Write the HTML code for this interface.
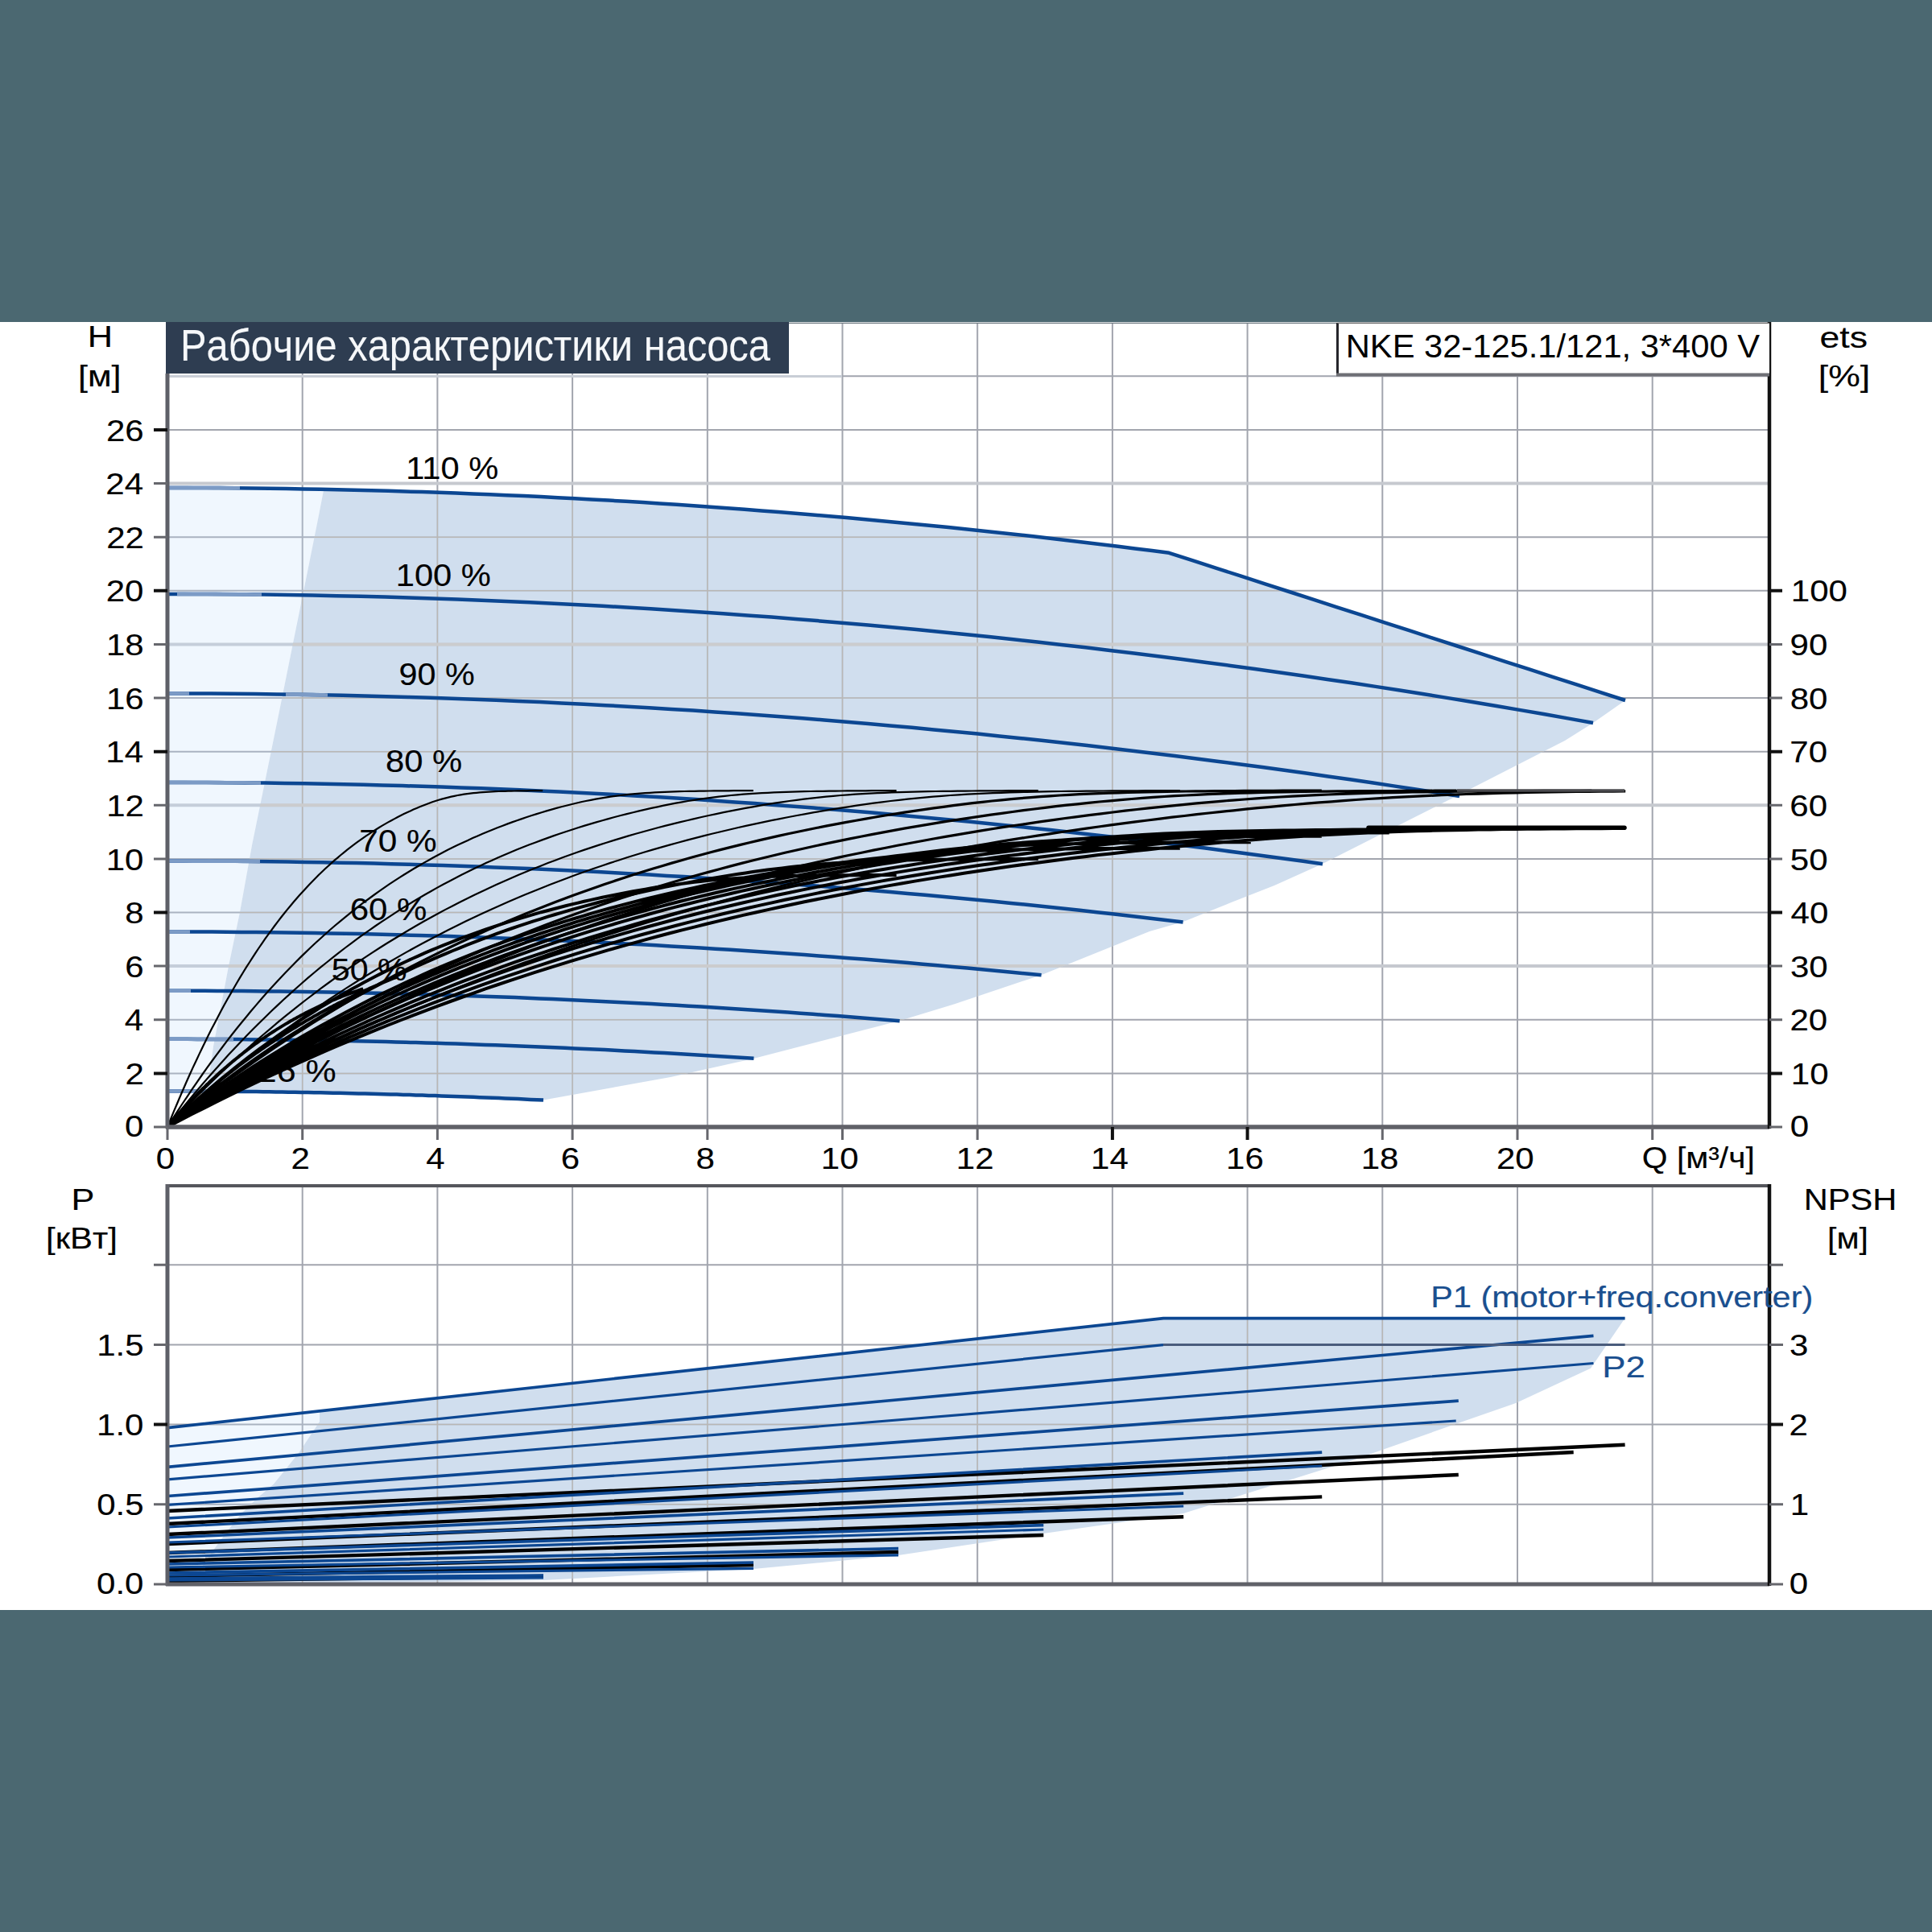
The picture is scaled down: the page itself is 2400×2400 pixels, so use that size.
<!DOCTYPE html>
<html><head><meta charset="utf-8"><title>Рабочие характеристики насоса</title>
<style>
html,body{margin:0;padding:0;width:2400px;height:2400px;overflow:hidden;background:#4b6871;font-family:"Liberation Sans",sans-serif;}
</style></head><body>
<svg width="2400" height="2400" viewBox="0 0 2400 2400" style="position:absolute;left:0;top:0"><rect x="0" y="0" width="2400" height="2400" fill="#4b6871"/>
<rect x="0" y="400" width="2400" height="1600" fill="#ffffff"/>
<path d="M375.7,402 L375.7,1400 M543.4,402 L543.4,1400 M711.1,402 L711.1,1400 M878.8,402 L878.8,1400 M1046.5,402 L1046.5,1400 M1214.2,402 L1214.2,1400 M1381.9,402 L1381.9,1400 M1549.6,402 L1549.6,1400 M1717.3,402 L1717.3,1400 M1885.0,402 L1885.0,1400 M2052.7,402 L2052.7,1400 M208,1333.4 L2198,1333.4 M208,1266.8 L2198,1266.8 M208,1133.5 L2198,1133.5 M208,1066.9 L2198,1066.9 M208,933.7 L2198,933.7 M208,867.0 L2198,867.0 M208,733.8 L2198,733.8 M208,667.2 L2198,667.2 M208,533.9 L2198,533.9 M208,467.3 L2198,467.3" stroke="#a2a5ae" stroke-width="2" fill="none"/>
<path d="M208,1200.1 L2198,1200.1 M208,1000.3 L2198,1000.3 M208,800.4 L2198,800.4 M208,600.6 L2198,600.6" stroke="#c6c9cf" stroke-width="4" fill="none"/>
<polygon points="208.0,605.9 218.2,605.9 228.4,605.9 238.6,606.0 248.8,606.0 259.1,606.0 269.3,606.1 279.5,606.2 289.7,606.3 299.9,606.3 310.1,606.4 320.3,606.6 330.5,606.7 340.7,606.8 350.9,607.0 361.2,607.1 371.4,607.3 381.6,607.5 391.8,607.7 402.0,607.9 402.0,609.0 396.0,640.0 384.0,700.0 343.6,900.0 313.0,1050.0 298.0,1133.0 284.0,1200.0 265.0,1300.0 257.0,1357.0 257.0,1355.6 251.6,1355.6 246.1,1355.6 240.7,1355.6 235.2,1355.5 229.8,1355.5 224.3,1355.5 218.9,1355.5 213.4,1355.5 208.0,1355.5" fill="#c3dffb" fill-opacity="0.25"/>
<polygon points="402.0,607.9 423.4,608.3 444.9,608.8 466.3,609.4 487.7,610.0 509.2,610.6 530.6,611.3 552.0,612.1 573.5,612.9 594.9,613.7 616.3,614.6 637.8,615.6 659.2,616.5 680.6,617.6 702.1,618.7 723.5,619.8 744.9,621.0 766.4,622.2 787.8,623.5 809.2,624.8 830.7,626.2 852.1,627.6 873.5,629.1 895.0,630.6 916.4,632.1 937.8,633.7 959.2,635.4 980.7,637.1 1002.1,638.9 1023.5,640.7 1045.0,642.5 1066.4,644.4 1087.8,646.4 1109.3,648.4 1130.7,650.4 1152.1,652.5 1173.6,654.6 1195.0,656.8 1216.4,659.0 1237.9,661.3 1259.3,663.7 1280.7,666.0 1302.2,668.5 1323.6,670.9 1345.0,673.5 1366.5,676.0 1387.9,678.7 1409.3,681.3 1430.8,684.0 1452.2,686.8 2019.0,870.0 1979.0,898.0 1944.0,920.0 1811.0,988.0 1643.0,1073.0 1583.0,1100.0 1532.0,1120.0 1470.0,1145.0 1428.0,1157.0 1294.0,1211.0 1185.0,1247.5 1117.6,1268.0 936.0,1315.0 833.0,1338.0 675.0,1366.6 675.0,1366.6 660.6,1365.9 646.2,1365.3 631.8,1364.6 617.3,1364.0 602.9,1363.4 588.5,1362.9 574.1,1362.3 559.7,1361.8 545.3,1361.3 530.9,1360.8 516.4,1360.3 502.0,1359.9 487.6,1359.5 473.2,1359.1 458.8,1358.7 444.4,1358.3 430.0,1358.0 415.6,1357.7 401.1,1357.4 386.7,1357.1 372.3,1356.9 357.9,1356.6 343.5,1356.4 329.1,1356.2 314.7,1356.1 300.2,1355.9 285.8,1355.8 271.4,1355.7 257.0,1355.6 257.0,1357.0 265.0,1300.0 284.0,1200.0 298.0,1133.0 313.0,1050.0 343.6,900.0 384.0,700.0 396.0,640.0 402.0,609.0" fill="#c4d6ea" fill-opacity="0.8"/>
<clipPath id="cpU"><polygon points="402.0,607.9 423.4,608.3 444.9,608.8 466.3,609.4 487.7,610.0 509.2,610.6 530.6,611.3 552.0,612.1 573.5,612.9 594.9,613.7 616.3,614.6 637.8,615.6 659.2,616.5 680.6,617.6 702.1,618.7 723.5,619.8 744.9,621.0 766.4,622.2 787.8,623.5 809.2,624.8 830.7,626.2 852.1,627.6 873.5,629.1 895.0,630.6 916.4,632.1 937.8,633.7 959.2,635.4 980.7,637.1 1002.1,638.9 1023.5,640.7 1045.0,642.5 1066.4,644.4 1087.8,646.4 1109.3,648.4 1130.7,650.4 1152.1,652.5 1173.6,654.6 1195.0,656.8 1216.4,659.0 1237.9,661.3 1259.3,663.7 1280.7,666.0 1302.2,668.5 1323.6,670.9 1345.0,673.5 1366.5,676.0 1387.9,678.7 1409.3,681.3 1430.8,684.0 1452.2,686.8 2019.0,870.0 1979.0,898.0 1944.0,920.0 1811.0,988.0 1643.0,1073.0 1583.0,1100.0 1532.0,1120.0 1470.0,1145.0 1428.0,1157.0 1294.0,1211.0 1185.0,1247.5 1117.6,1268.0 936.0,1315.0 833.0,1338.0 675.0,1366.6 675.0,1366.6 660.6,1365.9 646.2,1365.3 631.8,1364.6 617.3,1364.0 602.9,1363.4 588.5,1362.9 574.1,1362.3 559.7,1361.8 545.3,1361.3 530.9,1360.8 516.4,1360.3 502.0,1359.9 487.6,1359.5 473.2,1359.1 458.8,1358.7 444.4,1358.3 430.0,1358.0 415.6,1357.7 401.1,1357.4 386.7,1357.1 372.3,1356.9 357.9,1356.6 343.5,1356.4 329.1,1356.2 314.7,1356.1 300.2,1355.9 285.8,1355.8 271.4,1355.7 257.0,1355.6 257.0,1357.0 265.0,1300.0 284.0,1200.0 298.0,1133.0 313.0,1050.0 343.6,900.0 384.0,700.0 396.0,640.0 402.0,609.0"/></clipPath>
<g clip-path="url(#cpU)"><path d="M375.7,402 L375.7,1400 M543.4,402 L543.4,1400 M711.1,402 L711.1,1400 M878.8,402 L878.8,1400 M1046.5,402 L1046.5,1400 M1214.2,402 L1214.2,1400 M1381.9,402 L1381.9,1400 M1549.6,402 L1549.6,1400 M1717.3,402 L1717.3,1400 M1885.0,402 L1885.0,1400 M2052.7,402 L2052.7,1400 M208,1333.4 L2198,1333.4 M208,1266.8 L2198,1266.8 M208,1133.5 L2198,1133.5 M208,1066.9 L2198,1066.9 M208,933.7 L2198,933.7 M208,867.0 L2198,867.0 M208,733.8 L2198,733.8 M208,667.2 L2198,667.2 M208,533.9 L2198,533.9 M208,467.3 L2198,467.3" stroke="#b9b7b5" stroke-width="1.5" fill="none"/><path d="M208,1200.1 L2198,1200.1 M208,1000.3 L2198,1000.3 M208,800.4 L2198,800.4 M208,600.6 L2198,600.6" stroke="#cbccce" stroke-width="4" fill="none"/></g>
<path d="M208,467.5 L1046,467.5" stroke="#c9ced6" stroke-width="3"/>
<path d="M980,401.4 L2198,401.4" stroke="#6d7880" stroke-width="1.4"/>
<path d="M208.0,605.9 L229.1,605.9 L250.2,606.0 L271.3,606.1 L292.4,606.3 L313.4,606.5 L334.5,606.7 L355.6,607.0 L376.7,607.4 L397.8,607.8 L418.9,608.2 L440.0,608.7 L461.1,609.2 L482.1,609.8 L503.2,610.5 L524.3,611.1 L545.4,611.8 L566.5,612.6 L587.6,613.4 L608.7,614.3 L629.8,615.2 L650.9,616.1 L671.9,617.1 L693.0,618.2 L714.1,619.3 L735.2,620.4 L756.3,621.6 L777.4,622.8 L798.5,624.1 L819.6,625.4 L840.6,626.8 L861.7,628.2 L882.8,629.7 L903.9,631.2 L925.0,632.8 L946.1,634.4 L967.2,636.0 L988.3,637.7 L1009.3,639.5 L1030.4,641.2 L1051.5,643.1 L1072.6,645.0 L1093.7,646.9 L1114.8,648.9 L1135.9,650.9 L1157.0,653.0 L1178.1,655.1 L1199.1,657.2 L1220.2,659.4 L1241.3,661.7 L1262.4,664.0 L1283.5,666.3 L1304.6,668.7 L1325.7,671.2 L1346.8,673.7 L1367.8,676.2 L1388.9,678.8 L1410.0,681.4 L1431.1,684.1 L1452.2,686.8 L1482.0,696.4 L1511.9,706.1 L1541.7,715.7 L1571.5,725.4 L1601.4,735.0 L1631.2,744.7 L1661.0,754.3 L1690.9,763.9 L1720.7,773.6 L1750.5,783.2 L1780.3,792.9 L1810.2,802.5 L1840.0,812.1 L1869.8,821.8 L1899.7,831.4 L1929.5,841.1 L1959.3,850.7 L1989.2,860.4 L2019.0,870.0" stroke="#0c4792" stroke-width="4.5" fill="none" stroke-linejoin="round"/>
<path d="M208.0,737.9 L238.0,737.9 L268.0,738.1 L298.1,738.3 L328.1,738.6 L358.1,739.0 L388.1,739.6 L418.1,740.2 L448.1,740.8 L478.2,741.6 L508.2,742.5 L538.2,743.5 L568.2,744.5 L598.2,745.7 L628.2,746.9 L658.3,748.2 L688.3,749.7 L718.3,751.2 L748.3,752.8 L778.3,754.5 L808.3,756.3 L838.4,758.2 L868.4,760.2 L898.4,762.2 L928.4,764.4 L958.4,766.6 L988.4,769.0 L1018.5,771.4 L1048.5,774.0 L1078.5,776.6 L1108.5,779.3 L1138.5,782.1 L1168.5,785.0 L1198.6,788.0 L1228.6,791.1 L1258.6,794.2 L1288.6,797.5 L1318.6,800.9 L1348.6,804.3 L1378.7,807.9 L1408.7,811.5 L1438.7,815.2 L1468.7,819.0 L1498.7,822.9 L1528.7,826.9 L1558.8,831.0 L1588.8,835.2 L1618.8,839.5 L1648.8,843.9 L1678.8,848.3 L1708.8,852.9 L1738.9,857.5 L1768.9,862.3 L1798.9,867.1 L1828.9,872.0 L1858.9,877.0 L1888.9,882.1 L1919.0,887.3 L1949.0,892.6 L1979.0,898.0" stroke="#0c4792" stroke-width="4.5" fill="none" stroke-linejoin="round"/>
<path d="M208.0,861.5 L235.2,861.5 L262.4,861.6 L289.6,861.8 L316.8,862.1 L344.0,862.4 L371.2,862.8 L398.4,863.3 L425.6,863.8 L452.8,864.5 L480.0,865.2 L507.2,865.9 L534.4,866.8 L561.6,867.7 L588.8,868.7 L616.1,869.7 L643.3,870.9 L670.5,872.1 L697.7,873.4 L724.9,874.7 L752.1,876.2 L779.3,877.7 L806.5,879.2 L833.7,880.9 L860.9,882.6 L888.1,884.4 L915.3,886.3 L942.5,888.2 L969.7,890.2 L996.9,892.3 L1024.1,894.5 L1051.3,896.7 L1078.5,899.0 L1105.7,901.4 L1132.9,903.8 L1160.1,906.4 L1187.3,909.0 L1214.5,911.6 L1241.7,914.4 L1268.9,917.2 L1296.1,920.1 L1323.3,923.1 L1350.5,926.1 L1377.7,929.2 L1404.9,932.4 L1432.2,935.7 L1459.4,939.0 L1486.6,942.4 L1513.8,945.9 L1541.0,949.4 L1568.2,953.1 L1595.4,956.8 L1622.6,960.5 L1649.8,964.4 L1677.0,968.3 L1704.2,972.3 L1731.4,976.4 L1758.6,980.5 L1785.8,984.7 L1813.0,989.0" stroke="#0c4792" stroke-width="4.5" fill="none" stroke-linejoin="round"/>
<path d="M208.0,971.9 L232.3,971.9 L256.6,972.0 L281.0,972.2 L305.3,972.4 L329.6,972.6 L353.9,972.9 L378.3,973.3 L402.6,973.8 L426.9,974.3 L451.2,974.8 L475.5,975.4 L499.9,976.1 L524.2,976.8 L548.5,977.6 L572.8,978.4 L597.2,979.3 L621.5,980.3 L645.8,981.3 L670.1,982.4 L694.4,983.5 L718.8,984.7 L743.1,986.0 L767.4,987.3 L791.7,988.7 L816.1,990.1 L840.4,991.6 L864.7,993.1 L889.0,994.7 L913.3,996.4 L937.7,998.1 L962.0,999.9 L986.3,1001.7 L1010.6,1003.6 L1034.9,1005.5 L1059.3,1007.5 L1083.6,1009.6 L1107.9,1011.7 L1132.2,1013.9 L1156.6,1016.2 L1180.9,1018.5 L1205.2,1020.8 L1229.5,1023.2 L1253.8,1025.7 L1278.2,1028.2 L1302.5,1030.8 L1326.8,1033.5 L1351.1,1036.2 L1375.5,1038.9 L1399.8,1041.8 L1424.1,1044.7 L1448.4,1047.6 L1472.7,1050.6 L1497.1,1053.6 L1521.4,1056.8 L1545.7,1059.9 L1570.0,1063.2 L1594.4,1066.4 L1618.7,1069.8 L1643.0,1073.2" stroke="#0c4792" stroke-width="4.5" fill="none" stroke-linejoin="round"/>
<path d="M208.0,1069.5 L229.4,1069.5 L250.8,1069.6 L272.1,1069.7 L293.5,1069.8 L314.9,1070.0 L336.3,1070.3 L357.7,1070.6 L379.1,1070.9 L400.4,1071.3 L421.8,1071.7 L443.2,1072.1 L464.6,1072.6 L486.0,1073.2 L507.4,1073.8 L528.7,1074.4 L550.1,1075.1 L571.5,1075.8 L592.9,1076.6 L614.3,1077.4 L635.7,1078.2 L657.0,1079.1 L678.4,1080.1 L699.8,1081.0 L721.2,1082.1 L742.6,1083.1 L764.0,1084.3 L785.3,1085.4 L806.7,1086.6 L828.1,1087.9 L849.5,1089.1 L870.9,1090.5 L892.3,1091.9 L913.6,1093.3 L935.0,1094.7 L956.4,1096.2 L977.8,1097.8 L999.2,1099.4 L1020.6,1101.0 L1041.9,1102.7 L1063.3,1104.4 L1084.7,1106.2 L1106.1,1108.0 L1127.5,1109.9 L1148.9,1111.8 L1170.2,1113.7 L1191.6,1115.7 L1213.0,1117.7 L1234.4,1119.8 L1255.8,1121.9 L1277.2,1124.1 L1298.5,1126.3 L1319.9,1128.5 L1341.3,1130.8 L1362.7,1133.2 L1384.1,1135.5 L1405.5,1138.0 L1426.8,1140.4 L1448.2,1142.9 L1469.6,1145.5" stroke="#0c4792" stroke-width="4.5" fill="none" stroke-linejoin="round"/>
<path d="M208.0,1157.5 L226.4,1157.5 L244.8,1157.6 L263.2,1157.6 L281.6,1157.7 L300.0,1157.9 L318.4,1158.1 L336.8,1158.3 L355.2,1158.5 L373.6,1158.8 L392.0,1159.0 L410.4,1159.4 L428.8,1159.7 L447.2,1160.1 L465.6,1160.5 L484.0,1161.0 L502.4,1161.5 L520.8,1162.0 L539.2,1162.5 L557.6,1163.1 L576.0,1163.7 L594.4,1164.3 L612.8,1165.0 L631.2,1165.7 L649.6,1166.4 L668.0,1167.2 L686.4,1167.9 L704.8,1168.8 L723.2,1169.6 L741.6,1170.5 L760.0,1171.4 L778.4,1172.4 L796.8,1173.3 L815.2,1174.3 L833.6,1175.4 L852.0,1176.4 L870.4,1177.5 L888.8,1178.7 L907.2,1179.8 L925.6,1181.0 L944.0,1182.2 L962.4,1183.5 L980.8,1184.8 L999.2,1186.1 L1017.6,1187.4 L1036.0,1188.8 L1054.4,1190.2 L1072.8,1191.6 L1091.2,1193.1 L1109.6,1194.6 L1128.0,1196.1 L1146.4,1197.7 L1164.8,1199.3 L1183.2,1200.9 L1201.6,1202.6 L1220.0,1204.3 L1238.4,1206.0 L1256.8,1207.7 L1275.2,1209.5 L1293.6,1211.3" stroke="#0c4792" stroke-width="4.5" fill="none" stroke-linejoin="round"/>
<path d="M208.0,1230.7 L223.4,1230.7 L238.8,1230.7 L254.3,1230.8 L269.7,1230.9 L285.1,1231.0 L300.5,1231.1 L315.9,1231.2 L331.3,1231.4 L346.8,1231.6 L362.2,1231.8 L377.6,1232.0 L393.0,1232.3 L408.4,1232.5 L423.8,1232.8 L439.3,1233.1 L454.7,1233.5 L470.1,1233.8 L485.5,1234.2 L500.9,1234.6 L516.3,1235.0 L531.8,1235.5 L547.2,1235.9 L562.6,1236.4 L578.0,1236.9 L593.4,1237.4 L608.8,1238.0 L624.3,1238.6 L639.7,1239.1 L655.1,1239.8 L670.5,1240.4 L685.9,1241.1 L701.3,1241.7 L716.8,1242.4 L732.2,1243.2 L747.6,1243.9 L763.0,1244.7 L778.4,1245.4 L793.8,1246.3 L809.3,1247.1 L824.7,1247.9 L840.1,1248.8 L855.5,1249.7 L870.9,1250.6 L886.3,1251.6 L901.8,1252.5 L917.2,1253.5 L932.6,1254.5 L948.0,1255.5 L963.4,1256.6 L978.8,1257.6 L994.3,1258.7 L1009.7,1259.8 L1025.1,1261.0 L1040.5,1262.1 L1055.9,1263.3 L1071.3,1264.5 L1086.8,1265.7 L1102.2,1266.9 L1117.6,1268.2" stroke="#0c4792" stroke-width="4.5" fill="none" stroke-linejoin="round"/>
<path d="M208.0,1290.8 L220.3,1290.8 L232.7,1290.8 L245.0,1290.9 L257.4,1290.9 L269.7,1291.0 L282.1,1291.0 L294.4,1291.1 L306.8,1291.2 L319.1,1291.4 L331.5,1291.5 L343.8,1291.6 L356.1,1291.8 L368.5,1292.0 L380.8,1292.2 L393.2,1292.4 L405.5,1292.6 L417.9,1292.8 L430.2,1293.0 L442.6,1293.3 L454.9,1293.6 L467.3,1293.8 L479.6,1294.1 L492.0,1294.4 L504.3,1294.8 L516.6,1295.1 L529.0,1295.5 L541.3,1295.8 L553.7,1296.2 L566.0,1296.6 L578.4,1297.0 L590.7,1297.4 L603.1,1297.9 L615.4,1298.3 L627.8,1298.8 L640.1,1299.2 L652.4,1299.7 L664.8,1300.2 L677.1,1300.8 L689.5,1301.3 L701.8,1301.8 L714.2,1302.4 L726.5,1303.0 L738.9,1303.5 L751.2,1304.1 L763.6,1304.8 L775.9,1305.4 L788.3,1306.0 L800.6,1306.7 L812.9,1307.4 L825.3,1308.0 L837.6,1308.7 L850.0,1309.4 L862.3,1310.2 L874.7,1310.9 L887.0,1311.7 L899.4,1312.4 L911.7,1313.2 L924.1,1314.0 L936.4,1314.8" stroke="#0c4792" stroke-width="4.5" fill="none" stroke-linejoin="round"/>
<path d="M208.0,1355.5 L215.9,1355.5 L223.8,1355.5 L231.7,1355.5 L239.7,1355.6 L247.6,1355.6 L255.5,1355.6 L263.4,1355.7 L271.3,1355.7 L279.2,1355.8 L287.2,1355.8 L295.1,1355.9 L303.0,1356.0 L310.9,1356.0 L318.8,1356.1 L326.7,1356.2 L334.6,1356.3 L342.6,1356.4 L350.5,1356.5 L358.4,1356.7 L366.3,1356.8 L374.2,1356.9 L382.1,1357.0 L390.1,1357.2 L398.0,1357.3 L405.9,1357.5 L413.8,1357.7 L421.7,1357.8 L429.6,1358.0 L437.5,1358.2 L445.5,1358.4 L453.4,1358.6 L461.3,1358.8 L469.2,1359.0 L477.1,1359.2 L485.0,1359.4 L492.9,1359.6 L500.9,1359.9 L508.8,1360.1 L516.7,1360.4 L524.6,1360.6 L532.5,1360.9 L540.4,1361.1 L548.4,1361.4 L556.3,1361.7 L564.2,1362.0 L572.1,1362.2 L580.0,1362.5 L587.9,1362.8 L595.8,1363.2 L603.8,1363.5 L611.7,1363.8 L619.6,1364.1 L627.5,1364.5 L635.4,1364.8 L643.3,1365.1 L651.3,1365.5 L659.2,1365.9 L667.1,1366.2 L675.0,1366.6" stroke="#0c4792" stroke-width="4.5" fill="none" stroke-linejoin="round"/>
<path d="M208.0,605.9 L216.2,605.9 L224.4,605.9 L232.5,605.9 L240.7,606.0 L248.9,606.0 L257.1,606.0 L265.3,606.1 L273.5,606.1 L281.6,606.2 L289.8,606.3 L298.0,606.3" stroke="#7c9bc6" stroke-width="4.6" fill="none"/>
<path d="M220.0,737.9 L229.5,737.9 L239.1,738.0 L248.6,738.0 L258.2,738.0 L267.7,738.1 L277.3,738.2 L286.8,738.2 L296.4,738.3 L305.9,738.4 L315.5,738.5 L325.0,738.6" stroke="#7c9bc6" stroke-width="4.6" fill="none"/>
<path d="M208.0,861.5 L210.5,861.5 L212.9,861.5 L215.4,861.5 L217.8,861.5 L220.3,861.5 L222.7,861.5 L225.2,861.5 L227.6,861.5 L230.1,861.5 L232.5,861.5 L235.0,861.5" stroke="#7c9bc6" stroke-width="4.6" fill="none"/>
<path d="M355.0,862.6 L359.7,862.6 L364.5,862.7 L369.2,862.8 L373.9,862.9 L378.6,862.9 L383.4,863.0 L388.1,863.1 L392.8,863.2 L397.5,863.3 L402.3,863.4 L407.0,863.5" stroke="#7c9bc6" stroke-width="4.6" fill="none"/>
<path d="M208.0,971.9 L218.5,971.9 L229.1,971.9 L239.6,972.0 L250.2,972.0 L260.7,972.0 L271.3,972.1 L281.8,972.2 L292.4,972.3 L302.9,972.3 L313.5,972.5 L324.0,972.6" stroke="#7c9bc6" stroke-width="4.6" fill="none"/>
<path d="M208.0,1069.5 L218.5,1069.5 L228.9,1069.5 L239.4,1069.6 L249.8,1069.6 L260.3,1069.6 L270.7,1069.7 L281.2,1069.8 L291.6,1069.8 L302.1,1069.9 L312.5,1070.0 L323.0,1070.1" stroke="#7c9bc6" stroke-width="4.6" fill="none"/>
<path d="M208.0,1157.5 L210.5,1157.5 L213.1,1157.5 L215.6,1157.5 L218.2,1157.5 L220.7,1157.5 L223.3,1157.5 L225.8,1157.5 L228.4,1157.5 L230.9,1157.5 L233.5,1157.5 L236.0,1157.5" stroke="#7c9bc6" stroke-width="4.6" fill="none"/>
<path d="M208.0,1230.7 L210.6,1230.7 L213.3,1230.7 L215.9,1230.7 L218.5,1230.7 L221.2,1230.7 L223.8,1230.7 L226.5,1230.7 L229.1,1230.7 L231.7,1230.7 L234.4,1230.7 L237.0,1230.7" stroke="#7c9bc6" stroke-width="4.6" fill="none"/>
<path d="M208.0,1290.8 L215.5,1290.8 L222.9,1290.8 L230.4,1290.8 L237.8,1290.8 L245.3,1290.9 L252.7,1290.9 L260.2,1290.9 L267.6,1291.0 L275.1,1291.0 L282.5,1291.1 L290.0,1291.1" stroke="#7c9bc6" stroke-width="4.6" fill="none"/>
<path d="M208.0,1355.5 L213.4,1355.5 L218.7,1355.5 L224.1,1355.5 L229.5,1355.5 L234.8,1355.5 L240.2,1355.6 L245.5,1355.6 L250.9,1355.6 L256.3,1355.6 L261.6,1355.6 L267.0,1355.7" stroke="#7c9bc6" stroke-width="4.6" fill="none"/>
<g><text transform="translate(504.33,595.00) scale(1.0947,1.0000)" font-size="38" fill="#000" stroke="#000" stroke-width="0.15">110 %</text><text transform="translate(491.83,727.60) scale(1.0957,1.0000)" font-size="38" fill="#000" stroke="#000" stroke-width="0.15">100 %</text><text transform="translate(495.56,851.20) scale(1.0865,1.0000)" font-size="38" fill="#000" stroke="#000" stroke-width="0.15">90 %</text><text transform="translate(478.98,959.00) scale(1.0992,1.0000)" font-size="38" fill="#000" stroke="#000" stroke-width="0.15">80 %</text><text transform="translate(446.23,1058.40) scale(1.1127,1.0000)" font-size="38" fill="#000" stroke="#000" stroke-width="0.15">70 %</text><text transform="translate(434.67,1143.30) scale(1.1029,1.0000)" font-size="38" fill="#000" stroke="#000" stroke-width="0.15">60 %</text><text transform="translate(411.86,1218.30) scale(1.0808,1.0000)" font-size="38" fill="#000" stroke="#000" stroke-width="0.15">50 %</text><text transform="translate(319.84,1343.80) scale(1.1278,1.0000)" font-size="38" fill="#000" stroke="#000" stroke-width="0.15">26 %</text></g>
<path d="M208.0,1400.0 L210.0,1397.6 L212.1,1395.2 L214.1,1392.8 L216.2,1390.4 L218.2,1388.1 L220.3,1385.8 L222.3,1383.5 L224.3,1381.2 L226.4,1378.9 L228.4,1376.7 L230.5,1374.5 L232.5,1372.3 L234.6,1370.1 L236.6,1367.9 L238.7,1365.8 L240.7,1363.7 L242.7,1361.6 L244.8,1359.5 L246.8,1357.4 L248.9,1355.3 L250.9,1353.3 L253.0,1351.3 L255.0,1349.3 L257.0,1347.3 L259.1,1345.4 L261.1,1343.4 L263.2,1341.5 L265.2,1339.6 L267.3,1337.7 L269.3,1335.8 L271.3,1334.0 L273.4,1332.1 L275.4,1330.3 L277.5,1328.5 L279.5,1326.7 L281.6,1325.0 L283.6,1323.2 L285.6,1321.5 L287.7,1319.8 L289.7,1318.1 L291.8,1316.4 L293.8,1314.7 L295.9,1313.1 L297.9,1311.4 L300.0,1309.8 L302.0,1308.2 L304.0,1306.6 L306.1,1305.1 L308.1,1303.5 L310.2,1302.0 L312.2,1300.5 L314.3,1298.9 L316.3,1297.5 L318.3,1296.0 L320.4,1294.5 L322.4,1293.1 L324.5,1291.6 L326.5,1290.2 L328.6,1288.8 L330.6,1287.4 L332.6,1286.1 L334.7,1284.7 L336.7,1283.4 L338.8,1282.0 L340.8,1280.7 L342.9,1279.4 L344.9,1278.1 L347.0,1276.9 L349.0,1275.6 L351.0,1274.4 L353.1,1273.1 L355.1,1271.9 L357.2,1270.7 L359.2,1269.5 L361.3,1268.3 L363.3,1267.2 L365.3,1266.0 L367.4,1264.9 L369.4,1263.8 L371.5,1262.7 L373.5,1261.6 L375.6,1260.5 L377.6,1259.4 L379.6,1258.3 L381.7,1257.3 L383.7,1256.3 L385.8,1255.2 L387.8,1254.2 L389.9,1253.2 L391.9,1252.2 L393.9,1251.3 L396.0,1250.3 L398.0,1249.3 L400.1,1248.4 L402.1,1247.5 L404.2,1246.5 L406.2,1245.6 L408.3,1244.7 L410.3,1243.9 L412.3,1243.0 L414.4,1242.1 L416.4,1241.3 L418.5,1240.4 L420.5,1239.6 L422.6,1238.8 L424.6,1238.0 L426.6,1237.2 L428.7,1236.4 L430.7,1235.6 L432.8,1234.8 L434.8,1234.1 L436.9,1233.3 L438.9,1232.6 L440.9,1231.8 L443.0,1231.1 L445.0,1230.4 L447.1,1229.7 L449.1,1229.0 L451.2,1228.3 M208.0,1400.0 L210.4,1397.7 L212.8,1395.4 L215.2,1393.1 L217.6,1390.9 L220.0,1388.6 L222.4,1386.4 L224.8,1384.2 L227.2,1382.0 L229.6,1379.8 L232.0,1377.6 L234.4,1375.4 L236.7,1373.3 L239.1,1371.2 L241.5,1369.0 L243.9,1366.9 L246.3,1364.8 L248.7,1362.8 L251.1,1360.7 L253.5,1358.6 L255.9,1356.6 L258.3,1354.6 L260.7,1352.6 L263.1,1350.6 L265.5,1348.6 L267.9,1346.6 L270.3,1344.7 L272.7,1342.7 L275.1,1340.8 L277.5,1338.9 L279.9,1337.0 L282.3,1335.1 L284.7,1333.2 L287.1,1331.3 L289.5,1329.5 L291.9,1327.6 L294.2,1325.8 L296.6,1324.0 L299.0,1322.2 L301.4,1320.4 L303.8,1318.6 L306.2,1316.9 L308.6,1315.1 L311.0,1313.4 L313.4,1311.7 L315.8,1309.9 L318.2,1308.2 L320.6,1306.5 L323.0,1304.9 L325.4,1303.2 L327.8,1301.5 L330.2,1299.9 L332.6,1298.3 L335.0,1296.7 L337.4,1295.1 L339.8,1293.5 L342.2,1291.9 L344.6,1290.3 L347.0,1288.7 L349.3,1287.2 L351.7,1285.7 L354.1,1284.1 L356.5,1282.6 L358.9,1281.1 L361.3,1279.6 L363.7,1278.1 L366.1,1276.7 L368.5,1275.2 L370.9,1273.8 L373.3,1272.3 L375.7,1270.9 L378.1,1269.5 L380.5,1268.1 L382.9,1266.7 L385.3,1265.3 L387.7,1264.0 L390.1,1262.6 L392.5,1261.3 L394.9,1259.9 L397.3,1258.6 L399.7,1257.3 L402.1,1256.0 L404.4,1254.7 L406.8,1253.4 L409.2,1252.1 L411.6,1250.9 L414.0,1249.6 L416.4,1248.4 L418.8,1247.1 L421.2,1245.9 L423.6,1244.7 L426.0,1243.5 L428.4,1242.3 L430.8,1241.1 L433.2,1239.9 L435.6,1238.8 L438.0,1237.6 L440.4,1236.5 L442.8,1235.3 L445.2,1234.2 L447.6,1233.1 L450.0,1232.0 L452.4,1230.9 L454.8,1229.8 L457.2,1228.7 L459.5,1227.6 L461.9,1226.6 L464.3,1225.5 L466.7,1224.5 L469.1,1223.5 L471.5,1222.4 L473.9,1221.4 L476.3,1220.4 L478.7,1219.4 L481.1,1218.4 L483.5,1217.4 L485.9,1216.5 L488.3,1215.5 L490.7,1214.6 L493.1,1213.6 M208.0,1400.0 L215.6,1392.8 L223.2,1385.6 L230.8,1378.6 L238.4,1371.7 L246.0,1364.9 L253.7,1358.3 L261.3,1351.7 L268.9,1345.3 L276.5,1338.9 L284.1,1332.7 L291.7,1326.6 L299.3,1320.6 L306.9,1314.6 L314.5,1308.8 L322.1,1303.1 L329.8,1297.5 L337.4,1292.0 L345.0,1286.6 L352.6,1281.3 L360.2,1276.1 L367.8,1271.0 L375.4,1265.9 L383.0,1261.0 L390.6,1256.2 L398.2,1251.4 L405.9,1246.8 L413.5,1242.2 L421.1,1237.8 L428.7,1233.4 L436.3,1229.1 L443.9,1224.9 L451.5,1220.7 L459.1,1216.7 L466.7,1212.7 L474.3,1208.9 L482.0,1205.1 L489.6,1201.4 L497.2,1197.7 L504.8,1194.2 L512.4,1190.7 L520.0,1187.3 L527.6,1183.9 L535.2,1180.7 L542.8,1177.5 L550.4,1174.3 L558.1,1171.3 L565.7,1168.3 L573.3,1165.4 L580.9,1162.6 L588.5,1159.8 L596.1,1157.1 L603.7,1154.4 L611.3,1151.8 L618.9,1149.3 L626.5,1146.8 L634.2,1144.4 L641.8,1142.1 L649.4,1139.8 L657.0,1137.6 L664.6,1135.4 L672.2,1133.2 L679.8,1131.2 L687.4,1129.2 L695.0,1127.2 L702.6,1125.3 L710.3,1123.4 L717.9,1121.6 L725.5,1119.8 L733.1,1118.1 L740.7,1116.4 L748.3,1114.8 L755.9,1113.2 L763.5,1111.7 L771.1,1110.2 L778.7,1108.7 L786.4,1107.3 L794.0,1105.9 L801.6,1104.6 L809.2,1103.3 L816.8,1102.1 L824.4,1100.9 L832.0,1099.8 L839.6,1098.7 L847.2,1097.7 L854.8,1096.7 L862.5,1095.8 L870.1,1094.9 L877.7,1094.1 L885.3,1093.3 L892.9,1092.6 L900.5,1092.0 L908.1,1091.4 L915.7,1090.9 L923.3,1090.4 L930.9,1090.0 L938.6,1089.6 L946.2,1089.3 L953.8,1089.0 L961.4,1088.7 L969.0,1088.5 L976.6,1088.3 L984.2,1088.1 L991.8,1088.0 L999.4,1087.8 L1007.0,1087.7 L1014.7,1087.6 L1022.3,1087.5 L1029.9,1087.4 L1037.5,1087.4 L1045.1,1087.3 L1052.7,1087.2 L1060.3,1087.2 L1067.9,1087.2 L1075.5,1087.1 L1083.1,1087.1 L1090.8,1087.1 L1098.4,1087.0 L1106.0,1087.0 L1113.6,1087.0 M208.0,1400.0 L217.1,1392.3 L226.2,1384.7 L235.3,1377.3 L244.4,1369.9 L253.4,1362.7 L262.5,1355.6 L271.6,1348.6 L280.7,1341.8 L289.8,1335.0 L298.9,1328.4 L308.0,1321.9 L317.1,1315.5 L326.2,1309.2 L335.3,1303.0 L344.3,1296.9 L353.4,1291.0 L362.5,1285.1 L371.6,1279.4 L380.7,1273.7 L389.8,1268.2 L398.9,1262.7 L408.0,1257.4 L417.1,1252.1 L426.2,1247.0 L435.2,1242.0 L444.3,1237.0 L453.4,1232.2 L462.5,1227.4 L471.6,1222.7 L480.7,1218.2 L489.8,1213.7 L498.9,1209.3 L508.0,1205.0 L517.0,1200.8 L526.1,1196.7 L535.2,1192.6 L544.3,1188.7 L553.4,1184.8 L562.5,1181.0 L571.6,1177.3 L580.7,1173.7 L589.8,1170.1 L598.9,1166.7 L607.9,1163.3 L617.0,1159.9 L626.1,1156.7 L635.2,1153.5 L644.3,1150.4 L653.4,1147.4 L662.5,1144.4 L671.6,1141.6 L680.7,1138.7 L689.7,1136.0 L698.8,1133.3 L707.9,1130.7 L717.0,1128.1 L726.1,1125.6 L735.2,1123.2 L744.3,1120.8 L753.4,1118.5 L762.5,1116.2 L771.6,1114.0 L780.6,1111.9 L789.7,1109.8 L798.8,1107.7 L807.9,1105.8 L817.0,1103.8 L826.1,1101.9 L835.2,1100.1 L844.3,1098.3 L853.4,1096.6 L862.5,1094.9 L871.5,1093.2 L880.6,1091.7 L889.7,1090.1 L898.8,1088.6 L907.9,1087.1 L917.0,1085.7 L926.1,1084.4 L935.2,1083.1 L944.3,1081.8 L953.3,1080.6 L962.4,1079.5 L971.5,1078.4 L980.6,1077.3 L989.7,1076.3 L998.8,1075.4 L1007.9,1074.6 L1017.0,1073.8 L1026.1,1073.0 L1035.2,1072.3 L1044.2,1071.7 L1053.3,1071.2 L1062.4,1070.7 L1071.5,1070.2 L1080.6,1069.8 L1089.7,1069.4 L1098.8,1069.1 L1107.9,1068.9 L1117.0,1068.6 L1126.1,1068.4 L1135.1,1068.2 L1144.2,1068.0 L1153.3,1067.9 L1162.4,1067.8 L1171.5,1067.7 L1180.6,1067.6 L1189.7,1067.5 L1198.8,1067.4 L1207.9,1067.3 L1216.9,1067.3 L1226.0,1067.2 L1235.1,1067.2 L1244.2,1067.1 L1253.3,1067.1 L1262.4,1067.1 L1271.5,1067.1 L1280.6,1067.0 L1289.7,1067.0 M208.0,1400.0 L218.6,1392.0 L229.1,1384.1 L239.7,1376.4 L250.3,1368.7 L260.8,1361.2 L271.4,1353.8 L282.0,1346.6 L292.6,1339.5 L303.1,1332.4 L313.7,1325.5 L324.3,1318.8 L334.8,1312.1 L345.4,1305.6 L356.0,1299.1 L366.5,1292.8 L377.1,1286.6 L387.7,1280.5 L398.2,1274.5 L408.8,1268.7 L419.4,1262.9 L430.0,1257.2 L440.5,1251.7 L451.1,1246.2 L461.7,1240.9 L472.2,1235.6 L482.8,1230.5 L493.4,1225.5 L503.9,1220.5 L514.5,1215.7 L525.1,1210.9 L535.6,1206.2 L546.2,1201.7 L556.8,1197.2 L567.4,1192.8 L577.9,1188.5 L588.5,1184.3 L599.1,1180.2 L609.6,1176.2 L620.2,1172.3 L630.8,1168.4 L641.3,1164.6 L651.9,1160.9 L662.5,1157.3 L673.1,1153.8 L683.6,1150.3 L694.2,1147.0 L704.8,1143.7 L715.3,1140.5 L725.9,1137.3 L736.5,1134.2 L747.0,1131.2 L757.6,1128.3 L768.2,1125.4 L778.7,1122.6 L789.3,1119.9 L799.9,1117.2 L810.5,1114.6 L821.0,1112.1 L831.6,1109.6 L842.2,1107.2 L852.7,1104.9 L863.3,1102.6 L873.9,1100.3 L884.4,1098.2 L895.0,1096.0 L905.6,1094.0 L916.1,1092.0 L926.7,1090.0 L937.3,1088.1 L947.9,1086.2 L958.4,1084.4 L969.0,1082.7 L979.6,1081.0 L990.1,1079.3 L1000.7,1077.7 L1011.3,1076.1 L1021.8,1074.6 L1032.4,1073.2 L1043.0,1071.8 L1053.5,1070.4 L1064.1,1069.1 L1074.7,1067.8 L1085.3,1066.6 L1095.8,1065.5 L1106.4,1064.4 L1117.0,1063.4 L1127.5,1062.4 L1138.1,1061.5 L1148.7,1060.7 L1159.2,1059.9 L1169.8,1059.2 L1180.4,1058.6 L1190.9,1058.0 L1201.5,1057.5 L1212.1,1057.0 L1222.7,1056.6 L1233.2,1056.2 L1243.8,1055.9 L1254.4,1055.6 L1264.9,1055.3 L1275.5,1055.1 L1286.1,1054.9 L1296.6,1054.8 L1307.2,1054.6 L1317.8,1054.5 L1328.3,1054.4 L1338.9,1054.3 L1349.5,1054.2 L1360.1,1054.1 L1370.6,1054.0 L1381.2,1054.0 L1391.8,1053.9 L1402.3,1053.9 L1412.9,1053.8 L1423.5,1053.8 L1434.0,1053.8 L1444.6,1053.7 L1455.2,1053.7 L1465.8,1053.7 M208.0,1400.0 L220.0,1391.6 L232.1,1383.4 L244.1,1375.3 L256.2,1367.4 L268.2,1359.5 L280.3,1351.8 L292.3,1344.3 L304.4,1336.8 L316.4,1329.5 L328.5,1322.3 L340.5,1315.2 L352.6,1308.3 L364.6,1301.5 L376.7,1294.8 L388.7,1288.2 L400.8,1281.7 L412.8,1275.3 L424.9,1269.1 L436.9,1263.0 L449.0,1257.0 L461.0,1251.1 L473.1,1245.3 L485.1,1239.6 L497.2,1234.0 L509.2,1228.5 L521.3,1223.2 L533.3,1217.9 L545.4,1212.7 L557.4,1207.7 L569.5,1202.7 L581.5,1197.9 L593.6,1193.1 L605.6,1188.4 L617.7,1183.9 L629.7,1179.4 L641.8,1175.0 L653.8,1170.7 L665.9,1166.5 L677.9,1162.4 L690.0,1158.4 L702.0,1154.4 L714.1,1150.6 L726.1,1146.8 L738.2,1143.1 L750.2,1139.5 L762.3,1136.0 L774.3,1132.6 L786.4,1129.2 L798.4,1125.9 L810.5,1122.7 L822.5,1119.6 L834.5,1116.5 L846.6,1113.5 L858.6,1110.6 L870.7,1107.8 L882.7,1105.0 L894.8,1102.3 L906.8,1099.6 L918.9,1097.1 L930.9,1094.6 L943.0,1092.1 L955.0,1089.7 L967.1,1087.4 L979.1,1085.1 L991.2,1082.9 L1003.2,1080.7 L1015.3,1078.6 L1027.3,1076.6 L1039.4,1074.6 L1051.4,1072.7 L1063.5,1070.8 L1075.5,1069.0 L1087.6,1067.2 L1099.6,1065.4 L1111.7,1063.8 L1123.7,1062.1 L1135.8,1060.6 L1147.8,1059.0 L1159.9,1057.6 L1171.9,1056.1 L1184.0,1054.8 L1196.0,1053.5 L1208.1,1052.2 L1220.1,1051.0 L1232.2,1049.9 L1244.2,1048.8 L1256.3,1047.8 L1268.3,1046.9 L1280.4,1046.0 L1292.4,1045.2 L1304.5,1044.5 L1316.5,1043.8 L1328.6,1043.2 L1340.6,1042.7 L1352.7,1042.2 L1364.7,1041.7 L1376.8,1041.4 L1388.8,1041.0 L1400.9,1040.7 L1412.9,1040.4 L1425.0,1040.2 L1437.0,1040.0 L1449.1,1039.8 L1461.1,1039.7 L1473.1,1039.5 L1485.2,1039.4 L1497.2,1039.3 L1509.3,1039.2 L1521.3,1039.1 L1533.4,1039.1 L1545.4,1039.0 L1557.5,1038.9 L1569.5,1038.9 L1581.6,1038.9 L1593.6,1038.8 L1605.7,1038.8 L1617.7,1038.8 L1629.8,1038.7 L1641.8,1038.7 M208.0,1400.0 L221.5,1391.5 L234.9,1383.0 L248.4,1374.8 L261.8,1366.6 L275.3,1358.6 L288.7,1350.7 L302.2,1343.0 L315.7,1335.4 L329.1,1327.9 L342.6,1320.5 L356.0,1313.3 L369.5,1306.2 L383.0,1299.2 L396.4,1292.3 L409.9,1285.6 L423.3,1279.0 L436.8,1272.5 L450.2,1266.1 L463.7,1259.8 L477.2,1253.7 L490.6,1247.6 L504.1,1241.7 L517.5,1235.9 L531.0,1230.2 L544.5,1224.6 L557.9,1219.1 L571.4,1213.7 L584.8,1208.4 L598.3,1203.2 L611.7,1198.2 L625.2,1193.2 L638.7,1188.3 L652.1,1183.6 L665.6,1178.9 L679.0,1174.3 L692.5,1169.8 L706.0,1165.4 L719.4,1161.1 L732.9,1156.9 L746.3,1152.8 L759.8,1148.8 L773.2,1144.8 L786.7,1141.0 L800.2,1137.2 L813.6,1133.5 L827.1,1129.9 L840.5,1126.4 L854.0,1123.0 L867.5,1119.6 L880.9,1116.3 L894.4,1113.1 L907.8,1110.0 L921.3,1106.9 L934.7,1104.0 L948.2,1101.0 L961.7,1098.2 L975.1,1095.4 L988.6,1092.7 L1002.0,1090.1 L1015.5,1087.5 L1029.0,1085.0 L1042.4,1082.6 L1055.9,1080.2 L1069.3,1077.9 L1082.8,1075.6 L1096.2,1073.4 L1109.7,1071.2 L1123.2,1069.1 L1136.6,1067.1 L1150.1,1065.1 L1163.5,1063.2 L1177.0,1061.3 L1190.5,1059.5 L1203.9,1057.7 L1217.4,1056.0 L1230.8,1054.3 L1244.3,1052.7 L1257.7,1051.2 L1271.2,1049.7 L1284.7,1048.2 L1298.1,1046.8 L1311.6,1045.5 L1325.0,1044.2 L1338.5,1043.0 L1352.0,1041.8 L1365.4,1040.7 L1378.9,1039.7 L1392.3,1038.8 L1405.8,1037.9 L1419.2,1037.1 L1432.7,1036.3 L1446.2,1035.6 L1459.6,1035.0 L1473.1,1034.4 L1486.5,1033.9 L1500.0,1033.5 L1513.5,1033.1 L1526.9,1032.7 L1540.4,1032.4 L1553.8,1032.2 L1567.3,1031.9 L1580.7,1031.7 L1594.2,1031.5 L1607.7,1031.4 L1621.1,1031.2 L1634.6,1031.1 L1648.0,1031.0 L1661.5,1030.9 L1675.0,1030.8 L1688.4,1030.7 L1701.9,1030.7 L1715.3,1030.6 L1728.8,1030.6 L1742.2,1030.5 L1755.7,1030.5 L1769.2,1030.5 L1782.6,1030.4 L1796.1,1030.4 L1809.5,1030.4 M208.0,1400.0 L222.9,1391.4 L237.7,1383.0 L252.6,1374.6 L267.5,1366.5 L282.3,1358.4 L297.2,1350.5 L312.1,1342.7 L326.9,1335.1 L341.8,1327.6 L356.7,1320.2 L371.5,1312.9 L386.4,1305.8 L401.3,1298.7 L416.1,1291.9 L431.0,1285.1 L445.9,1278.4 L460.7,1271.9 L475.6,1265.5 L490.5,1259.2 L505.4,1253.0 L520.2,1246.9 L535.1,1241.0 L550.0,1235.1 L564.8,1229.4 L579.7,1223.8 L594.6,1218.3 L609.4,1212.9 L624.3,1207.6 L639.2,1202.4 L654.0,1197.3 L668.9,1192.3 L683.8,1187.4 L698.6,1182.6 L713.5,1177.9 L728.4,1173.3 L743.2,1168.8 L758.1,1164.4 L773.0,1160.1 L787.8,1155.8 L802.7,1151.7 L817.6,1147.7 L832.4,1143.7 L847.3,1139.8 L862.2,1136.0 L877.0,1132.3 L891.9,1128.7 L906.8,1125.2 L921.6,1121.7 L936.5,1118.4 L951.4,1115.1 L966.2,1111.8 L981.1,1108.7 L996.0,1105.6 L1010.8,1102.6 L1025.7,1099.7 L1040.6,1096.8 L1055.4,1094.1 L1070.3,1091.3 L1085.2,1088.7 L1100.1,1086.1 L1114.9,1083.6 L1129.8,1081.1 L1144.7,1078.7 L1159.5,1076.4 L1174.4,1074.1 L1189.3,1071.9 L1204.1,1069.8 L1219.0,1067.7 L1233.9,1065.6 L1248.7,1063.6 L1263.6,1061.7 L1278.5,1059.8 L1293.3,1058.0 L1308.2,1056.2 L1323.1,1054.5 L1337.9,1052.8 L1352.8,1051.2 L1367.7,1049.6 L1382.5,1048.1 L1397.4,1046.6 L1412.3,1045.2 L1427.1,1043.9 L1442.0,1042.6 L1456.9,1041.4 L1471.7,1040.2 L1486.6,1039.1 L1501.5,1038.1 L1516.3,1037.1 L1531.2,1036.2 L1546.1,1035.4 L1560.9,1034.7 L1575.8,1034.0 L1590.7,1033.4 L1605.5,1032.8 L1620.4,1032.3 L1635.3,1031.8 L1650.1,1031.4 L1665.0,1031.1 L1679.9,1030.8 L1694.8,1030.5 L1709.6,1030.3 L1724.5,1030.0 L1739.4,1029.9 L1754.2,1029.7 L1769.1,1029.6 L1784.0,1029.4 L1798.8,1029.3 L1813.7,1029.2 L1828.6,1029.1 L1843.4,1029.1 L1858.3,1029.0 L1873.2,1029.0 L1888.0,1028.9 L1902.9,1028.9 L1917.8,1028.8 L1932.6,1028.8 L1947.5,1028.8 L1962.4,1028.8 L1977.2,1028.7 M208.0,1400.0 L223.2,1392.0 L238.4,1384.1 L253.7,1376.4 L268.9,1368.7 L284.1,1361.2 L299.3,1353.8 L314.5,1346.5 L329.8,1339.3 L345.0,1332.2 L360.2,1325.3 L375.4,1318.4 L390.6,1311.7 L405.9,1305.0 L421.1,1298.5 L436.3,1292.1 L451.5,1285.8 L466.7,1279.6 L482.0,1273.5 L497.2,1267.5 L512.4,1261.6 L527.6,1255.8 L542.8,1250.1 L558.1,1244.5 L573.3,1239.0 L588.5,1233.6 L603.7,1228.2 L618.9,1223.0 L634.2,1217.9 L649.4,1212.9 L664.6,1207.9 L679.8,1203.1 L695.0,1198.3 L710.3,1193.6 L725.5,1189.1 L740.7,1184.6 L755.9,1180.1 L771.1,1175.8 L786.4,1171.6 L801.6,1167.4 L816.8,1163.3 L832.0,1159.3 L847.2,1155.4 L862.5,1151.6 L877.7,1147.8 L892.9,1144.1 L908.1,1140.5 L923.3,1136.9 L938.6,1133.5 L953.8,1130.1 L969.0,1126.8 L984.2,1123.5 L999.4,1120.3 L1014.7,1117.2 L1029.9,1114.2 L1045.1,1111.2 L1060.3,1108.3 L1075.5,1105.4 L1090.8,1102.6 L1106.0,1099.9 L1121.2,1097.2 L1136.4,1094.6 L1151.6,1092.1 L1166.8,1089.6 L1182.1,1087.2 L1197.3,1084.8 L1212.5,1082.5 L1227.7,1080.2 L1242.9,1078.0 L1258.2,1075.8 L1273.4,1073.7 L1288.6,1071.7 L1303.8,1069.7 L1319.0,1067.7 L1334.3,1065.8 L1349.5,1064.0 L1364.7,1062.1 L1379.9,1060.4 L1395.1,1058.7 L1410.4,1057.0 L1425.6,1055.4 L1440.8,1053.8 L1456.0,1052.2 L1471.2,1050.7 L1486.5,1049.3 L1501.7,1047.9 L1516.9,1046.5 L1532.1,1045.2 L1547.3,1044.0 L1562.6,1042.8 L1577.8,1041.6 L1593.0,1040.5 L1608.2,1039.5 L1623.4,1038.5 L1638.7,1037.6 L1653.9,1036.7 L1669.1,1035.9 L1684.3,1035.2 L1699.5,1034.5 L1714.8,1033.9 L1730.0,1033.3 L1745.2,1032.8 L1760.4,1032.3 L1775.6,1031.9 L1790.9,1031.5 L1806.1,1031.2 L1821.3,1030.9 L1836.5,1030.6 L1851.7,1030.4 L1867.0,1030.1 L1882.2,1030.0 L1897.4,1029.8 L1912.6,1029.7 L1927.8,1029.5 L1943.1,1029.4 L1958.3,1029.3 L1973.5,1029.2 L1988.7,1029.2 L2003.9,1029.1 L2019.2,1029.0 M208.0,1400.0 L219.3,1391.8 L230.6,1383.8 L241.9,1375.8 L253.2,1368.0 L264.5,1360.4 L275.9,1352.8 L287.2,1345.4 L298.5,1338.1 L309.8,1331.0 L321.1,1323.9 L332.4,1317.0 L343.7,1310.2 L355.0,1303.5 L366.3,1296.9 L377.6,1290.5 L388.9,1284.2 L400.3,1277.9 L411.6,1271.8 L422.9,1265.8 L434.2,1259.9 L445.5,1254.1 L456.8,1248.5 L468.1,1242.9 L479.4,1237.4 L490.7,1232.1 L502.0,1226.8 L513.3,1221.7 L524.7,1216.6 L536.0,1211.7 L547.3,1206.8 L558.6,1202.1 L569.9,1197.4 L581.2,1192.8 L592.5,1188.3 L603.8,1184.0 L615.1,1179.7 L626.4,1175.5 L637.7,1171.4 L649.1,1167.3 L660.4,1163.4 L671.7,1159.5 L683.0,1155.8 L694.3,1152.1 L705.6,1148.5 L716.9,1144.9 L728.2,1141.5 L739.5,1138.1 L750.8,1134.8 L762.1,1131.6 L773.5,1128.5 L784.8,1125.4 L796.1,1122.4 L807.4,1119.5 L818.7,1116.6 L830.0,1113.8 L841.3,1111.1 L852.6,1108.5 L863.9,1105.9 L875.2,1103.4 L886.6,1100.9 L897.9,1098.5 L909.2,1096.1 L920.5,1093.9 L931.8,1091.6 L943.1,1089.5 L954.4,1087.4 L965.7,1085.3 L977.0,1083.3 L988.3,1081.4 L999.6,1079.5 L1011.0,1077.6 L1022.3,1075.8 L1033.6,1074.1 L1044.9,1072.4 L1056.2,1070.7 L1067.5,1069.1 L1078.8,1067.6 L1090.1,1066.1 L1101.4,1064.7 L1112.7,1063.3 L1124.0,1061.9 L1135.4,1060.6 L1146.7,1059.4 L1158.0,1058.3 L1169.3,1057.2 L1180.6,1056.1 L1191.9,1055.1 L1203.2,1054.2 L1214.5,1053.4 L1225.8,1052.6 L1237.1,1051.9 L1248.4,1051.2 L1259.8,1050.6 L1271.1,1050.1 L1282.4,1049.6 L1293.7,1049.2 L1305.0,1048.8 L1316.3,1048.5 L1327.6,1048.2 L1338.9,1047.9 L1350.2,1047.7 L1361.5,1047.5 L1372.8,1047.3 L1384.2,1047.1 L1395.5,1047.0 L1406.8,1046.9 L1418.1,1046.8 L1429.4,1046.7 L1440.7,1046.6 L1452.0,1046.5 L1463.3,1046.5 L1474.6,1046.4 L1485.9,1046.4 L1497.2,1046.3 L1508.6,1046.3 L1519.9,1046.3 L1531.2,1046.3 L1542.5,1046.2 L1553.8,1046.2 M208.0,1400.0 L220.8,1391.5 L233.5,1383.2 L246.3,1375.0 L259.0,1367.0 L271.8,1359.1 L284.5,1351.3 L297.3,1343.6 L310.0,1336.1 L322.8,1328.7 L335.5,1321.4 L348.3,1314.3 L361.0,1307.2 L373.8,1300.3 L386.6,1293.6 L399.3,1286.9 L412.1,1280.3 L424.8,1273.9 L437.6,1267.6 L450.3,1261.4 L463.1,1255.3 L475.8,1249.3 L488.6,1243.5 L501.3,1237.7 L514.1,1232.1 L526.8,1226.6 L539.6,1221.1 L552.3,1215.8 L565.1,1210.6 L577.9,1205.5 L590.6,1200.4 L603.4,1195.5 L616.1,1190.7 L628.9,1186.0 L641.6,1181.4 L654.4,1176.8 L667.1,1172.4 L679.9,1168.1 L692.6,1163.8 L705.4,1159.7 L718.1,1155.6 L730.9,1151.6 L743.7,1147.7 L756.4,1143.9 L769.2,1140.2 L781.9,1136.5 L794.7,1133.0 L807.4,1129.5 L820.2,1126.1 L832.9,1122.8 L845.7,1119.5 L858.4,1116.4 L871.2,1113.3 L883.9,1110.2 L896.7,1107.3 L909.5,1104.4 L922.2,1101.6 L935.0,1098.9 L947.7,1096.2 L960.5,1093.6 L973.2,1091.0 L986.0,1088.6 L998.7,1086.1 L1011.5,1083.8 L1024.2,1081.5 L1037.0,1079.2 L1049.7,1077.1 L1062.5,1074.9 L1075.2,1072.9 L1088.0,1070.9 L1100.8,1068.9 L1113.5,1067.0 L1126.3,1065.1 L1139.0,1063.3 L1151.8,1061.6 L1164.5,1059.9 L1177.3,1058.2 L1190.0,1056.6 L1202.8,1055.1 L1215.5,1053.6 L1228.3,1052.2 L1241.0,1050.8 L1253.8,1049.5 L1266.6,1048.2 L1279.3,1047.0 L1292.1,1045.9 L1304.8,1044.8 L1317.6,1043.8 L1330.3,1042.8 L1343.1,1041.9 L1355.8,1041.1 L1368.6,1040.4 L1381.3,1039.7 L1394.1,1039.1 L1406.8,1038.6 L1419.6,1038.1 L1432.4,1037.6 L1445.1,1037.2 L1457.9,1036.9 L1470.6,1036.6 L1483.4,1036.3 L1496.1,1036.1 L1508.9,1035.8 L1521.6,1035.7 L1534.4,1035.5 L1547.1,1035.4 L1559.9,1035.2 L1572.6,1035.1 L1585.4,1035.1 L1598.1,1035.0 L1610.9,1034.9 L1623.7,1034.8 L1636.4,1034.8 L1649.2,1034.7 L1661.9,1034.7 L1674.7,1034.7 L1687.4,1034.6 L1700.2,1034.6 L1712.9,1034.6 L1725.7,1034.6 M208.0,1400.0 L222.2,1391.4 L236.3,1383.0 L250.5,1374.7 L264.7,1366.5 L278.8,1358.5 L293.0,1350.6 L307.1,1342.9 L321.3,1335.2 L335.5,1327.7 L349.6,1320.4 L363.8,1313.1 L378.0,1306.0 L392.1,1299.0 L406.3,1292.1 L420.4,1285.3 L434.6,1278.7 L448.8,1272.2 L462.9,1265.8 L477.1,1259.5 L491.3,1253.3 L505.4,1247.3 L519.6,1241.3 L533.7,1235.5 L547.9,1229.8 L562.1,1224.2 L576.2,1218.7 L590.4,1213.3 L604.6,1208.0 L618.7,1202.8 L632.9,1197.7 L647.0,1192.7 L661.2,1187.9 L675.4,1183.1 L689.5,1178.4 L703.7,1173.8 L717.9,1169.3 L732.0,1164.9 L746.2,1160.6 L760.4,1156.4 L774.5,1152.3 L788.7,1148.2 L802.8,1144.3 L817.0,1140.4 L831.2,1136.6 L845.3,1132.9 L859.5,1129.3 L873.7,1125.8 L887.8,1122.4 L902.0,1119.0 L916.1,1115.7 L930.3,1112.5 L944.5,1109.3 L958.6,1106.3 L972.8,1103.3 L987.0,1100.4 L1001.1,1097.5 L1015.3,1094.7 L1029.4,1092.0 L1043.6,1089.4 L1057.8,1086.8 L1071.9,1084.3 L1086.1,1081.8 L1100.3,1079.5 L1114.4,1077.1 L1128.6,1074.9 L1142.8,1072.6 L1156.9,1070.5 L1171.1,1068.4 L1185.2,1066.4 L1199.4,1064.4 L1213.6,1062.4 L1227.7,1060.6 L1241.9,1058.7 L1256.1,1057.0 L1270.2,1055.2 L1284.4,1053.6 L1298.5,1052.0 L1312.7,1050.4 L1326.9,1048.9 L1341.0,1047.4 L1355.2,1046.0 L1369.4,1044.7 L1383.5,1043.4 L1397.7,1042.2 L1411.8,1041.0 L1426.0,1039.9 L1440.2,1038.9 L1454.3,1037.9 L1468.5,1037.1 L1482.7,1036.2 L1496.8,1035.5 L1511.0,1034.8 L1525.1,1034.2 L1539.3,1033.6 L1553.5,1033.1 L1567.6,1032.7 L1581.8,1032.3 L1596.0,1031.9 L1610.1,1031.6 L1624.3,1031.3 L1638.5,1031.1 L1652.6,1030.9 L1666.8,1030.7 L1680.9,1030.5 L1695.1,1030.4 L1709.3,1030.3 L1723.4,1030.2 L1737.6,1030.1 L1751.8,1030.0 L1765.9,1029.9 L1780.1,1029.8 L1794.2,1029.8 L1808.4,1029.7 L1822.6,1029.7 L1836.7,1029.7 L1850.9,1029.6 L1865.1,1029.6 L1879.2,1029.6 L1893.4,1029.6 M208.0,1400.0 L223.0,1391.7 L238.1,1383.6 L253.1,1375.5 L268.2,1367.6 L283.2,1359.9 L298.3,1352.2 L313.3,1344.7 L328.3,1337.3 L343.4,1330.0 L358.4,1322.8 L373.5,1315.8 L388.5,1308.8 L403.6,1302.0 L418.6,1295.3 L433.7,1288.7 L448.7,1282.3 L463.7,1275.9 L478.8,1269.6 L493.8,1263.5 L508.9,1257.5 L523.9,1251.5 L539.0,1245.7 L554.0,1240.0 L569.0,1234.4 L584.1,1228.9 L599.1,1223.4 L614.2,1218.1 L629.2,1212.9 L644.3,1207.8 L659.3,1202.8 L674.4,1197.9 L689.4,1193.0 L704.4,1188.3 L719.5,1183.7 L734.5,1179.1 L749.6,1174.7 L764.6,1170.3 L779.7,1166.0 L794.7,1161.8 L809.7,1157.7 L824.8,1153.7 L839.8,1149.7 L854.9,1145.9 L869.9,1142.1 L885.0,1138.4 L900.0,1134.8 L915.1,1131.2 L930.1,1127.8 L945.1,1124.4 L960.2,1121.1 L975.2,1117.8 L990.3,1114.7 L1005.3,1111.6 L1020.4,1108.5 L1035.4,1105.6 L1050.4,1102.7 L1065.5,1099.9 L1080.5,1097.1 L1095.6,1094.4 L1110.6,1091.8 L1125.7,1089.2 L1140.7,1086.7 L1155.8,1084.3 L1170.8,1081.9 L1185.8,1079.6 L1200.9,1077.3 L1215.9,1075.1 L1231.0,1072.9 L1246.0,1070.8 L1261.1,1068.8 L1276.1,1066.8 L1291.1,1064.8 L1306.2,1062.9 L1321.2,1061.1 L1336.3,1059.3 L1351.3,1057.5 L1366.4,1055.8 L1381.4,1054.2 L1396.5,1052.5 L1411.5,1051.0 L1426.5,1049.5 L1441.6,1048.0 L1456.6,1046.6 L1471.7,1045.3 L1486.7,1044.0 L1501.8,1042.7 L1516.8,1041.5 L1531.8,1040.4 L1546.9,1039.3 L1561.9,1038.3 L1577.0,1037.4 L1592.0,1036.5 L1607.1,1035.7 L1622.1,1035.0 L1637.1,1034.3 L1652.2,1033.6 L1667.2,1033.1 L1682.3,1032.5 L1697.3,1032.1 L1712.4,1031.7 L1727.4,1031.3 L1742.5,1031.0 L1757.5,1030.7 L1772.5,1030.4 L1787.6,1030.2 L1802.6,1030.0 L1817.7,1029.8 L1832.7,1029.7 L1847.8,1029.5 L1862.8,1029.4 L1877.8,1029.3 L1892.9,1029.2 L1907.9,1029.2 L1923.0,1029.1 L1938.0,1029.0 L1953.1,1029.0 L1968.1,1028.9 L1983.2,1028.9 L1998.2,1028.8" stroke="#000" stroke-width="4.0" fill="none" stroke-linecap="butt"/>
<path d="M208.0,1400.0 L211.9,1390.3 L215.8,1380.8 L219.8,1371.5 L223.7,1362.3 L227.6,1353.2 L231.5,1344.3 L235.4,1335.5 L239.3,1326.9 L243.3,1318.5 L247.2,1310.1 L251.1,1302.0 L255.0,1293.9 L258.9,1286.0 L262.8,1278.3 L266.8,1270.7 L270.7,1263.2 L274.6,1255.8 L278.5,1248.6 L282.4,1241.5 L286.4,1234.6 L290.3,1227.7 L294.2,1221.0 L298.1,1214.4 L302.0,1208.0 L305.9,1201.7 L309.9,1195.5 L313.8,1189.4 L317.7,1183.4 L321.6,1177.5 L325.5,1171.8 L329.4,1166.2 L333.4,1160.7 L337.3,1155.3 L341.2,1150.0 L345.1,1144.8 L349.0,1139.8 L353.0,1134.8 L356.9,1129.9 L360.8,1125.2 L364.7,1120.5 L368.6,1116.0 L372.5,1111.5 L376.5,1107.2 L380.4,1102.9 L384.3,1098.7 L388.2,1094.7 L392.1,1090.7 L396.0,1086.8 L400.0,1083.0 L403.9,1079.3 L407.8,1075.7 L411.7,1072.1 L415.6,1068.7 L419.6,1065.3 L423.5,1062.0 L427.4,1058.8 L431.3,1055.6 L435.2,1052.6 L439.1,1049.6 L443.1,1046.7 L447.0,1043.9 L450.9,1041.1 L454.8,1038.4 L458.7,1035.8 L462.7,1033.2 L466.6,1030.7 L470.5,1028.3 L474.4,1025.9 L478.3,1023.6 L482.2,1021.4 L486.2,1019.2 L490.1,1017.1 L494.0,1015.0 L497.9,1013.0 L501.8,1011.1 L505.7,1009.2 L509.7,1007.4 L513.6,1005.6 L517.5,1003.9 L521.4,1002.3 L525.3,1000.7 L529.3,999.2 L533.2,997.7 L537.1,996.3 L541.0,995.0 L544.9,993.8 L548.8,992.6 L552.8,991.6 L556.7,990.6 L560.6,989.6 L564.5,988.8 L568.4,988.0 L572.3,987.3 L576.3,986.7 L580.2,986.1 L584.1,985.6 L588.0,985.2 L591.9,984.8 L595.9,984.4 L599.8,984.1 L603.7,983.8 L607.6,983.6 L611.5,983.4 L615.4,983.2 L619.4,983.0 L623.3,982.9 L627.2,982.8 L631.1,982.7 L635.0,982.6 L638.9,982.5 L642.9,982.4 L646.8,982.4 L650.7,982.3 L654.6,982.3 L658.5,982.2 L662.5,982.2 L666.4,982.2 L670.3,982.1 L674.2,982.1 M208.0,1400.0 L214.1,1390.3 L220.2,1380.8 L226.3,1371.5 L232.5,1362.3 L238.6,1353.2 L244.7,1344.3 L250.8,1335.5 L256.9,1326.9 L263.0,1318.5 L269.2,1310.1 L275.3,1302.0 L281.4,1293.9 L287.5,1286.0 L293.6,1278.3 L299.7,1270.7 L305.9,1263.2 L312.0,1255.8 L318.1,1248.6 L324.2,1241.5 L330.3,1234.6 L336.4,1227.7 L342.6,1221.0 L348.7,1214.4 L354.8,1208.0 L360.9,1201.7 L367.0,1195.5 L373.1,1189.4 L379.3,1183.4 L385.4,1177.5 L391.5,1171.8 L397.6,1166.2 L403.7,1160.7 L409.8,1155.3 L415.9,1150.0 L422.1,1144.8 L428.2,1139.8 L434.3,1134.8 L440.4,1129.9 L446.5,1125.2 L452.6,1120.5 L458.8,1116.0 L464.9,1111.5 L471.0,1107.2 L477.1,1102.9 L483.2,1098.7 L489.3,1094.7 L495.5,1090.7 L501.6,1086.8 L507.7,1083.0 L513.8,1079.3 L519.9,1075.7 L526.0,1072.1 L532.2,1068.7 L538.3,1065.3 L544.4,1062.0 L550.5,1058.8 L556.6,1055.6 L562.7,1052.6 L568.9,1049.6 L575.0,1046.7 L581.1,1043.9 L587.2,1041.1 L593.3,1038.4 L599.4,1035.8 L605.5,1033.2 L611.7,1030.7 L617.8,1028.3 L623.9,1025.9 L630.0,1023.6 L636.1,1021.4 L642.2,1019.2 L648.4,1017.1 L654.5,1015.0 L660.6,1013.0 L666.7,1011.1 L672.8,1009.2 L678.9,1007.4 L685.1,1005.6 L691.2,1003.9 L697.3,1002.3 L703.4,1000.7 L709.5,999.2 L715.6,997.7 L721.8,996.3 L727.9,995.0 L734.0,993.8 L740.1,992.6 L746.2,991.6 L752.3,990.6 L758.5,989.6 L764.6,988.8 L770.7,988.0 L776.8,987.3 L782.9,986.7 L789.0,986.1 L795.1,985.6 L801.3,985.2 L807.4,984.8 L813.5,984.4 L819.6,984.1 L825.7,983.8 L831.8,983.6 L838.0,983.4 L844.1,983.2 L850.2,983.0 L856.3,982.9 L862.4,982.8 L868.5,982.7 L874.7,982.6 L880.8,982.5 L886.9,982.4 L893.0,982.4 L899.1,982.3 L905.2,982.3 L911.4,982.2 L917.5,982.2 L923.6,982.2 L929.7,982.1 L935.8,982.1 M208.0,1400.0 L215.6,1390.3 L223.2,1380.8 L230.8,1371.5 L238.4,1362.3 L246.0,1353.2 L253.7,1344.3 L261.3,1335.5 L268.9,1326.9 L276.5,1318.5 L284.1,1310.1 L291.7,1302.0 L299.3,1293.9 L306.9,1286.0 L314.5,1278.3 L322.1,1270.7 L329.8,1263.2 L337.4,1255.8 L345.0,1248.6 L352.6,1241.5 L360.2,1234.6 L367.8,1227.7 L375.4,1221.0 L383.0,1214.4 L390.6,1208.0 L398.2,1201.7 L405.9,1195.5 L413.5,1189.4 L421.1,1183.4 L428.7,1177.5 L436.3,1171.8 L443.9,1166.2 L451.5,1160.7 L459.1,1155.3 L466.7,1150.0 L474.3,1144.8 L482.0,1139.8 L489.6,1134.8 L497.2,1129.9 L504.8,1125.2 L512.4,1120.5 L520.0,1116.0 L527.6,1111.5 L535.2,1107.2 L542.8,1102.9 L550.4,1098.7 L558.1,1094.7 L565.7,1090.7 L573.3,1086.8 L580.9,1083.0 L588.5,1079.3 L596.1,1075.7 L603.7,1072.1 L611.3,1068.7 L618.9,1065.3 L626.5,1062.0 L634.2,1058.8 L641.8,1055.6 L649.4,1052.6 L657.0,1049.6 L664.6,1046.7 L672.2,1043.9 L679.8,1041.1 L687.4,1038.4 L695.0,1035.8 L702.6,1033.2 L710.3,1030.7 L717.9,1028.3 L725.5,1025.9 L733.1,1023.6 L740.7,1021.4 L748.3,1019.2 L755.9,1017.1 L763.5,1015.0 L771.1,1013.0 L778.7,1011.1 L786.4,1009.2 L794.0,1007.4 L801.6,1005.6 L809.2,1003.9 L816.8,1002.3 L824.4,1000.7 L832.0,999.2 L839.6,997.7 L847.2,996.3 L854.8,995.0 L862.5,993.8 L870.1,992.6 L877.7,991.6 L885.3,990.6 L892.9,989.6 L900.5,988.8 L908.1,988.0 L915.7,987.3 L923.3,986.7 L930.9,986.1 L938.6,985.6 L946.2,985.2 L953.8,984.8 L961.4,984.4 L969.0,984.1 L976.6,983.8 L984.2,983.6 L991.8,983.4 L999.4,983.2 L1007.0,983.0 L1014.7,982.9 L1022.3,982.8 L1029.9,982.7 L1037.5,982.6 L1045.1,982.5 L1052.7,982.4 L1060.3,982.4 L1067.9,982.3 L1075.5,982.3 L1083.1,982.2 L1090.8,982.2 L1098.4,982.2 L1106.0,982.1 L1113.6,982.1 M208.0,1400.0 L217.1,1390.3 L226.2,1380.8 L235.3,1371.5 L244.4,1362.3 L253.4,1353.2 L262.5,1344.3 L271.6,1335.5 L280.7,1326.9 L289.8,1318.5 L298.9,1310.1 L308.0,1302.0 L317.1,1293.9 L326.2,1286.0 L335.3,1278.3 L344.3,1270.7 L353.4,1263.2 L362.5,1255.8 L371.6,1248.6 L380.7,1241.5 L389.8,1234.6 L398.9,1227.7 L408.0,1221.0 L417.1,1214.4 L426.2,1208.0 L435.2,1201.7 L444.3,1195.5 L453.4,1189.4 L462.5,1183.4 L471.6,1177.5 L480.7,1171.8 L489.8,1166.2 L498.9,1160.7 L508.0,1155.3 L517.0,1150.0 L526.1,1144.8 L535.2,1139.8 L544.3,1134.8 L553.4,1129.9 L562.5,1125.2 L571.6,1120.5 L580.7,1116.0 L589.8,1111.5 L598.9,1107.2 L607.9,1102.9 L617.0,1098.7 L626.1,1094.7 L635.2,1090.7 L644.3,1086.8 L653.4,1083.0 L662.5,1079.3 L671.6,1075.7 L680.7,1072.1 L689.7,1068.7 L698.8,1065.3 L707.9,1062.0 L717.0,1058.8 L726.1,1055.6 L735.2,1052.6 L744.3,1049.6 L753.4,1046.7 L762.5,1043.9 L771.6,1041.1 L780.6,1038.4 L789.7,1035.8 L798.8,1033.2 L807.9,1030.7 L817.0,1028.3 L826.1,1025.9 L835.2,1023.6 L844.3,1021.4 L853.4,1019.2 L862.5,1017.1 L871.5,1015.0 L880.6,1013.0 L889.7,1011.1 L898.8,1009.2 L907.9,1007.4 L917.0,1005.6 L926.1,1003.9 L935.2,1002.3 L944.3,1000.7 L953.3,999.2 L962.4,997.7 L971.5,996.3 L980.6,995.0 L989.7,993.8 L998.8,992.6 L1007.9,991.6 L1017.0,990.6 L1026.1,989.6 L1035.2,988.8 L1044.2,988.0 L1053.3,987.3 L1062.4,986.7 L1071.5,986.1 L1080.6,985.6 L1089.7,985.2 L1098.8,984.8 L1107.9,984.4 L1117.0,984.1 L1126.1,983.8 L1135.1,983.6 L1144.2,983.4 L1153.3,983.2 L1162.4,983.0 L1171.5,982.9 L1180.6,982.8 L1189.7,982.7 L1198.8,982.6 L1207.9,982.5 L1216.9,982.4 L1226.0,982.4 L1235.1,982.3 L1244.2,982.3 L1253.3,982.2 L1262.4,982.2 L1271.5,982.2 L1280.6,982.1 L1289.7,982.1 M208.0,1400.0 L218.6,1390.3 L229.1,1380.8 L239.7,1371.5 L250.3,1362.3 L260.8,1353.2 L271.4,1344.3 L282.0,1335.5 L292.6,1326.9 L303.1,1318.5 L313.7,1310.1 L324.3,1302.0 L334.8,1293.9 L345.4,1286.0 L356.0,1278.3 L366.5,1270.7 L377.1,1263.2 L387.7,1255.8 L398.2,1248.6 L408.8,1241.5 L419.4,1234.6 L430.0,1227.7 L440.5,1221.0 L451.1,1214.4 L461.7,1208.0 L472.2,1201.7 L482.8,1195.5 L493.4,1189.4 L503.9,1183.4 L514.5,1177.5 L525.1,1171.8 L535.6,1166.2 L546.2,1160.7 L556.8,1155.3 L567.4,1150.0 L577.9,1144.8 L588.5,1139.8 L599.1,1134.8 L609.6,1129.9 L620.2,1125.2 L630.8,1120.5 L641.3,1116.0 L651.9,1111.5 L662.5,1107.2 L673.1,1102.9 L683.6,1098.7 L694.2,1094.7 L704.8,1090.7 L715.3,1086.8 L725.9,1083.0 L736.5,1079.3 L747.0,1075.7 L757.6,1072.1 L768.2,1068.7 L778.7,1065.3 L789.3,1062.0 L799.9,1058.8 L810.5,1055.6 L821.0,1052.6 L831.6,1049.6 L842.2,1046.7 L852.7,1043.9 L863.3,1041.1 L873.9,1038.4 L884.4,1035.8 L895.0,1033.2 L905.6,1030.7 L916.1,1028.3 L926.7,1025.9 L937.3,1023.6 L947.9,1021.4 L958.4,1019.2 L969.0,1017.1 L979.6,1015.0 L990.1,1013.0 L1000.7,1011.1 L1011.3,1009.2 L1021.8,1007.4 L1032.4,1005.6 L1043.0,1003.9 L1053.5,1002.3 L1064.1,1000.7 L1074.7,999.2 L1085.3,997.7 L1095.8,996.3 L1106.4,995.0 L1117.0,993.8 L1127.5,992.6 L1138.1,991.6 L1148.7,990.6 L1159.2,989.6 L1169.8,988.8 L1180.4,988.0 L1190.9,987.3 L1201.5,986.7 L1212.1,986.1 L1222.7,985.6 L1233.2,985.2 L1243.8,984.8 L1254.4,984.4 L1264.9,984.1 L1275.5,983.8 L1286.1,983.6 L1296.6,983.4 L1307.2,983.2 L1317.8,983.0 L1328.3,982.9 L1338.9,982.8 L1349.5,982.7 L1360.1,982.6 L1370.6,982.5 L1381.2,982.4 L1391.8,982.4 L1402.3,982.3 L1412.9,982.3 L1423.5,982.2 L1434.0,982.2 L1444.6,982.2 L1455.2,982.1 L1465.8,982.1" stroke="#000" stroke-width="2.2" fill="none"/>
<path d="M208.0,1400.0 L220.0,1390.3 L232.1,1380.8 L244.1,1371.5 L256.2,1362.3 L268.2,1353.2 L280.3,1344.3 L292.3,1335.5 L304.4,1326.9 L316.4,1318.5 L328.5,1310.1 L340.5,1302.0 L352.6,1293.9 L364.6,1286.0 L376.7,1278.3 L388.7,1270.7 L400.8,1263.2 L412.8,1255.8 L424.9,1248.6 L436.9,1241.5 L449.0,1234.6 L461.0,1227.7 L473.1,1221.0 L485.1,1214.4 L497.2,1208.0 L509.2,1201.7 L521.3,1195.5 L533.3,1189.4 L545.4,1183.4 L557.4,1177.5 L569.5,1171.8 L581.5,1166.2 L593.6,1160.7 L605.6,1155.3 L617.7,1150.0 L629.7,1144.8 L641.8,1139.8 L653.8,1134.8 L665.9,1129.9 L677.9,1125.2 L690.0,1120.5 L702.0,1116.0 L714.1,1111.5 L726.1,1107.2 L738.2,1102.9 L750.2,1098.7 L762.3,1094.7 L774.3,1090.7 L786.4,1086.8 L798.4,1083.0 L810.5,1079.3 L822.5,1075.7 L834.5,1072.1 L846.6,1068.7 L858.6,1065.3 L870.7,1062.0 L882.7,1058.8 L894.8,1055.6 L906.8,1052.6 L918.9,1049.6 L930.9,1046.7 L943.0,1043.9 L955.0,1041.1 L967.1,1038.4 L979.1,1035.8 L991.2,1033.2 L1003.2,1030.7 L1015.3,1028.3 L1027.3,1025.9 L1039.4,1023.6 L1051.4,1021.4 L1063.5,1019.2 L1075.5,1017.1 L1087.6,1015.0 L1099.6,1013.0 L1111.7,1011.1 L1123.7,1009.2 L1135.8,1007.4 L1147.8,1005.6 L1159.9,1003.9 L1171.9,1002.3 L1184.0,1000.7 L1196.0,999.2 L1208.1,997.7 L1220.1,996.3 L1232.2,995.0 L1244.2,993.8 L1256.3,992.6 L1268.3,991.6 L1280.4,990.6 L1292.4,989.6 L1304.5,988.8 L1316.5,988.0 L1328.6,987.3 L1340.6,986.7 L1352.7,986.1 L1364.7,985.6 L1376.8,985.2 L1388.8,984.8 L1400.9,984.4 L1412.9,984.1 L1425.0,983.8 L1437.0,983.6 L1449.1,983.4 L1461.1,983.2 L1473.1,983.0 L1485.2,982.9 L1497.2,982.8 L1509.3,982.7 L1521.3,982.6 L1533.4,982.5 L1545.4,982.4 L1557.5,982.4 L1569.5,982.3 L1581.6,982.3 L1593.6,982.2 L1605.7,982.2 L1617.7,982.2 L1629.8,982.1 L1641.8,982.1 M208.0,1400.0 L221.5,1390.5 L234.9,1381.2 L248.4,1372.0 L261.8,1363.0 L275.3,1354.1 L288.7,1345.4 L302.2,1336.8 L315.7,1328.3 L329.1,1320.0 L342.6,1311.8 L356.0,1303.8 L369.5,1295.9 L383.0,1288.1 L396.4,1280.5 L409.9,1273.0 L423.3,1265.6 L436.8,1258.4 L450.2,1251.2 L463.7,1244.3 L477.2,1237.4 L490.6,1230.6 L504.1,1224.0 L517.5,1217.5 L531.0,1211.2 L544.5,1204.9 L557.9,1198.7 L571.4,1192.7 L584.8,1186.8 L598.3,1181.0 L611.7,1175.3 L625.2,1169.7 L638.7,1164.3 L652.1,1158.9 L665.6,1153.7 L679.0,1148.5 L692.5,1143.5 L706.0,1138.5 L719.4,1133.7 L732.9,1129.0 L746.3,1124.3 L759.8,1119.8 L773.2,1115.3 L786.7,1111.0 L800.2,1106.7 L813.6,1102.6 L827.1,1098.5 L840.5,1094.5 L854.0,1090.6 L867.5,1086.8 L880.9,1083.1 L894.4,1079.5 L907.8,1075.9 L921.3,1072.4 L934.7,1069.0 L948.2,1065.7 L961.7,1062.5 L975.1,1059.3 L988.6,1056.2 L1002.0,1053.2 L1015.5,1050.3 L1029.0,1047.4 L1042.4,1044.6 L1055.9,1041.9 L1069.3,1039.2 L1082.8,1036.6 L1096.2,1034.1 L1109.7,1031.6 L1123.2,1029.2 L1136.6,1026.9 L1150.1,1024.6 L1163.5,1022.4 L1177.0,1020.2 L1190.5,1018.1 L1203.9,1016.1 L1217.4,1014.1 L1230.8,1012.2 L1244.3,1010.3 L1257.7,1008.5 L1271.2,1006.7 L1284.7,1005.0 L1298.1,1003.3 L1311.6,1001.7 L1325.0,1000.2 L1338.5,998.8 L1352.0,997.4 L1365.4,996.0 L1378.9,994.8 L1392.3,993.6 L1405.8,992.5 L1419.2,991.4 L1432.7,990.4 L1446.2,989.5 L1459.6,988.7 L1473.1,988.0 L1486.5,987.3 L1500.0,986.7 L1513.5,986.1 L1526.9,985.6 L1540.4,985.2 L1553.8,984.8 L1567.3,984.4 L1580.7,984.1 L1594.2,983.9 L1607.7,983.6 L1621.1,983.4 L1634.6,983.2 L1648.0,983.1 L1661.5,982.9 L1675.0,982.8 L1688.4,982.7 L1701.9,982.6 L1715.3,982.5 L1728.8,982.5 L1742.2,982.4 L1755.7,982.3 L1769.2,982.3 L1782.6,982.2 L1796.1,982.2 L1809.5,982.2 M208.0,1400.0 L222.9,1390.7 L237.7,1381.5 L252.6,1372.5 L267.5,1363.6 L282.3,1354.8 L297.2,1346.2 L312.1,1337.8 L326.9,1329.4 L341.8,1321.2 L356.7,1313.2 L371.5,1305.2 L386.4,1297.4 L401.3,1289.8 L416.1,1282.2 L431.0,1274.8 L445.9,1267.5 L460.7,1260.4 L475.6,1253.3 L490.5,1246.4 L505.4,1239.6 L520.2,1232.9 L535.1,1226.4 L550.0,1220.0 L564.8,1213.6 L579.7,1207.4 L594.6,1201.3 L609.4,1195.4 L624.3,1189.5 L639.2,1183.7 L654.0,1178.1 L668.9,1172.6 L683.8,1167.1 L698.6,1161.8 L713.5,1156.6 L728.4,1151.5 L743.2,1146.4 L758.1,1141.5 L773.0,1136.7 L787.8,1132.0 L802.7,1127.4 L817.6,1122.8 L832.4,1118.4 L847.3,1114.0 L862.2,1109.8 L877.0,1105.6 L891.9,1101.6 L906.8,1097.6 L921.6,1093.7 L936.5,1089.9 L951.4,1086.1 L966.2,1082.5 L981.1,1078.9 L996.0,1075.4 L1010.8,1072.0 L1025.7,1068.7 L1040.6,1065.4 L1055.4,1062.3 L1070.3,1059.2 L1085.2,1056.1 L1100.1,1053.2 L1114.9,1050.3 L1129.8,1047.5 L1144.7,1044.7 L1159.5,1042.0 L1174.4,1039.4 L1189.3,1036.8 L1204.1,1034.4 L1219.0,1031.9 L1233.9,1029.5 L1248.7,1027.2 L1263.6,1025.0 L1278.5,1022.8 L1293.3,1020.6 L1308.2,1018.6 L1323.1,1016.5 L1337.9,1014.6 L1352.8,1012.7 L1367.7,1010.8 L1382.5,1009.0 L1397.4,1007.2 L1412.3,1005.5 L1427.1,1003.9 L1442.0,1002.3 L1456.9,1000.8 L1471.7,999.3 L1486.6,997.9 L1501.5,996.6 L1516.3,995.3 L1531.2,994.1 L1546.1,993.0 L1560.9,991.9 L1575.8,990.9 L1590.7,990.0 L1605.5,989.1 L1620.4,988.4 L1635.3,987.7 L1650.1,987.0 L1665.0,986.4 L1679.9,985.9 L1694.8,985.4 L1709.6,985.0 L1724.5,984.7 L1739.4,984.3 L1754.2,984.0 L1769.1,983.8 L1784.0,983.6 L1798.8,983.4 L1813.7,983.2 L1828.6,983.0 L1843.4,982.9 L1858.3,982.8 L1873.2,982.7 L1888.0,982.6 L1902.9,982.5 L1917.8,982.4 L1932.6,982.4 L1947.5,982.3 L1962.4,982.3 L1977.2,982.2 M208.0,1400.0 L223.2,1391.4 L238.4,1382.9 L253.7,1374.6 L268.9,1366.3 L284.1,1358.2 L299.3,1350.2 L314.5,1342.3 L329.8,1334.6 L345.0,1326.9 L360.2,1319.4 L375.4,1312.0 L390.6,1304.7 L405.9,1297.5 L421.1,1290.4 L436.3,1283.4 L451.5,1276.6 L466.7,1269.8 L482.0,1263.2 L497.2,1256.6 L512.4,1250.2 L527.6,1243.9 L542.8,1237.6 L558.1,1231.5 L573.3,1225.5 L588.5,1219.5 L603.7,1213.7 L618.9,1208.0 L634.2,1202.4 L649.4,1196.8 L664.6,1191.4 L679.8,1186.0 L695.0,1180.8 L710.3,1175.6 L725.5,1170.6 L740.7,1165.6 L755.9,1160.7 L771.1,1155.9 L786.4,1151.2 L801.6,1146.5 L816.8,1142.0 L832.0,1137.5 L847.2,1133.2 L862.5,1128.9 L877.7,1124.7 L892.9,1120.5 L908.1,1116.5 L923.3,1112.5 L938.6,1108.6 L953.8,1104.8 L969.0,1101.0 L984.2,1097.4 L999.4,1093.8 L1014.7,1090.2 L1029.9,1086.8 L1045.1,1083.4 L1060.3,1080.1 L1075.5,1076.9 L1090.8,1073.7 L1106.0,1070.6 L1121.2,1067.5 L1136.4,1064.5 L1151.6,1061.6 L1166.8,1058.8 L1182.1,1056.0 L1197.3,1053.3 L1212.5,1050.6 L1227.7,1048.0 L1242.9,1045.4 L1258.2,1042.9 L1273.4,1040.5 L1288.6,1038.1 L1303.8,1035.8 L1319.0,1033.5 L1334.3,1031.3 L1349.5,1029.1 L1364.7,1027.0 L1379.9,1024.9 L1395.1,1022.9 L1410.4,1020.9 L1425.6,1019.0 L1440.8,1017.1 L1456.0,1015.2 L1471.2,1013.5 L1486.5,1011.7 L1501.7,1010.0 L1516.9,1008.4 L1532.1,1006.8 L1547.3,1005.2 L1562.6,1003.7 L1577.8,1002.3 L1593.0,1000.9 L1608.2,999.5 L1623.4,998.2 L1638.7,996.9 L1653.9,995.8 L1669.1,994.6 L1684.3,993.5 L1699.5,992.5 L1714.8,991.6 L1730.0,990.7 L1745.2,989.8 L1760.4,989.1 L1775.6,988.4 L1790.9,987.7 L1806.1,987.1 L1821.3,986.5 L1836.5,986.1 L1851.7,985.6 L1867.0,985.2 L1882.2,984.8 L1897.4,984.5 L1912.6,984.2 L1927.8,984.0 L1943.1,983.7 L1958.3,983.5 L1973.5,983.4 L1988.7,983.2 L2003.9,983.1 L2019.2,982.9" stroke="#000" stroke-width="3.2" fill="none"/>
<path d="M1810,982.0 L2018,982.0" stroke="#4a4a4e" stroke-width="3.4" fill="none"/>
<path d="M1700,1028.3 L2018,1028.3" stroke="#000" stroke-width="5.5" fill="none" stroke-linecap="round"/>
<path d="M208,464 L208,1402" stroke="#5e6068" stroke-width="5"/>
<path d="M206,1400 L2198,1400" stroke="#606168" stroke-width="5.5"/>
<path d="M2198,400 L2198,1402" stroke="#111" stroke-width="4.5"/>
<path d="M191,1400.0 L208,1400.0 M191,1266.8 L208,1266.8 M191,1200.1 L208,1200.1 M191,1066.9 L208,1066.9 M191,1000.3 L208,1000.3 M191,867.0 L208,867.0 M191,800.4 L208,800.4 M191,667.2 L208,667.2 M191,600.6 L208,600.6" stroke="#66676d" stroke-width="3"/>
<path d="M191,1333.4 L208,1333.4 M191,1133.5 L208,1133.5 M191,933.7 L208,933.7 M191,733.8 L208,733.8 M191,533.9 L208,533.9" stroke="#111" stroke-width="4"/>
<path d="M208.0,1400 L208.0,1416 M375.7,1400 L375.7,1416 M543.4,1400 L543.4,1416 M711.1,1400 L711.1,1416 M878.8,1400 L878.8,1416 M1046.5,1400 L1046.5,1416 M1214.2,1400 L1214.2,1416 M1717.3,1400 L1717.3,1416 M1885.0,1400 L1885.0,1416 M2052.7,1400 L2052.7,1416" stroke="#66676d" stroke-width="3"/>
<path d="M1381.9,1400 L1381.9,1416 M1549.6,1400 L1549.6,1416" stroke="#111" stroke-width="4"/>
<path d="M2198,1400.0 L2214,1400.0 M2198,1266.8 L2214,1266.8 M2198,1200.1 L2214,1200.1 M2198,1066.9 L2214,1066.9 M2198,1000.3 L2214,1000.3 M2198,867.0 L2214,867.0 M2198,800.4 L2214,800.4" stroke="#66676d" stroke-width="3"/>
<path d="M2198,1333.4 L2214,1333.4 M2198,1133.5 L2214,1133.5 M2198,933.7 L2214,933.7 M2198,733.8 L2214,733.8" stroke="#111" stroke-width="4"/>
<rect x="206" y="400" width="774" height="64" fill="#2e3d51"/>
<rect x="1661.5" y="401.5" width="536.5" height="63.5" fill="#fff" stroke="none"/>
<path d="M1661.5,401 L1661.5,466" stroke="#25252b" stroke-width="3"/>
<path d="M1661.5,401.3 L2198,401.3" stroke="#666" stroke-width="1.2"/>
<path d="M1660,465.5 L2198,465.5" stroke="#6e6f75" stroke-width="4"/>
<path d="M375.7,1473 L375.7,1968 M543.4,1473 L543.4,1968 M711.1,1473 L711.1,1968 M878.8,1473 L878.8,1968 M1046.5,1473 L1046.5,1968 M1214.2,1473 L1214.2,1968 M1381.9,1473 L1381.9,1968 M1549.6,1473 L1549.6,1968 M1717.3,1473 L1717.3,1968 M1885.0,1473 L1885.0,1968 M2052.7,1473 L2052.7,1968 M208,1868.8 L2198,1868.8 M208,1769.6 L2198,1769.6 M208,1670.4 L2198,1670.4 M208,1571.2 L2198,1571.2" stroke="#a2a5ae" stroke-width="2" fill="none"/>
<polygon points="208.0,1773.6 397.0,1752.8 397.0,1766.0 371.0,1805.0 340.0,1843.5 319.0,1861.6 300.0,1880.0 280.0,1905.0 262.0,1930.0 245.0,1955.0 238.0,1966.0 208.0,1966.0" fill="#c3dffb" fill-opacity="0.25"/>
<polygon points="397.0,1752.8 1445.3,1637.6 2018.6,1637.6 1976.0,1699.8 1883.0,1743.0 1811.0,1768.0 1678.0,1814.7 1642.0,1826.0 1470.0,1880.0 1296.0,1905.0 1116.0,1932.0 936.0,1949.0 675.0,1963.0 400.0,1967.0 238.0,1966.0 245.0,1955.0 262.0,1930.0 280.0,1905.0 300.0,1880.0 319.0,1861.6 340.0,1843.5 371.0,1805.0 397.0,1766.0" fill="#c4d6ea" fill-opacity="0.8"/>
<clipPath id="cpL"><polygon points="397.0,1752.8 1445.3,1637.6 2018.6,1637.6 1976.0,1699.8 1883.0,1743.0 1811.0,1768.0 1678.0,1814.7 1642.0,1826.0 1470.0,1880.0 1296.0,1905.0 1116.0,1932.0 936.0,1949.0 675.0,1963.0 400.0,1967.0 238.0,1966.0 245.0,1955.0 262.0,1930.0 280.0,1905.0 300.0,1880.0 319.0,1861.6 340.0,1843.5 371.0,1805.0 397.0,1766.0"/></clipPath>
<g clip-path="url(#cpL)"><path d="M375.7,1473 L375.7,1968 M543.4,1473 L543.4,1968 M711.1,1473 L711.1,1968 M878.8,1473 L878.8,1968 M1046.5,1473 L1046.5,1968 M1214.2,1473 L1214.2,1968 M1381.9,1473 L1381.9,1968 M1549.6,1473 L1549.6,1968 M1717.3,1473 L1717.3,1968 M1885.0,1473 L1885.0,1968 M2052.7,1473 L2052.7,1968 M208,1868.8 L2198,1868.8 M208,1769.6 L2198,1769.6 M208,1670.4 L2198,1670.4 M208,1571.2 L2198,1571.2" stroke="#b9b7b5" stroke-width="1.5" fill="none"/></g>
<path d="M208.0,1877 L2018.6,1794.8 M208.0,1893 L1954.7,1804 M208.0,1906 L1811.8,1832 M208.0,1918 L1642.2,1859.4 M208.0,1929 L1470.2,1884.2 M208.0,1939 L1296.3,1907 M208.0,1950 L1116,1928 M208.0,1958 L936,1944 M208.0,1964 L675,1958" stroke="#000" stroke-width="4.4" fill="none"/>
<path d="M208.0,1797 L1445,1670.6 M208.0,1837.8 L1979.5,1693.5 M208.0,1869.4 L1808.7,1765 M208.0,1897 L1642.2,1821 M208.0,1916 L1470.2,1871 M208.0,1934 L1296.3,1900 M208.0,1947 L1116,1931.8 M208.0,1957 L936,1948.4 M208.0,1963 L675,1960" stroke="#0c4792" stroke-width="3.2" fill="none"/>
<path d="M208.0,1773.6 L1445.3,1637.6 L2018.6,1637.6 M208.0,1822.3 L1979.5,1659.4 M208.0,1858.5 L1811.8,1740.1 M208.0,1886 L1642.2,1804.1 M208.0,1910 L1470.2,1855.2 M208.0,1929 L1296.3,1894.6 M208.0,1943 L1116,1923.6 M208.0,1954 L936,1941 M208.0,1961 L675,1957" stroke="#0c4792" stroke-width="3.7" fill="none" stroke-linejoin="round"/>
<path d="M1445,1670.6 L2018.6,1670.6" stroke="#4a5c7c" stroke-width="3" fill="none"/>
<path d="M206,1473 L2198,1473" stroke="#55565c" stroke-width="4"/>
<path d="M208,1471 L208,1970" stroke="#5e6068" stroke-width="5"/>
<path d="M206,1968 L2198,1968" stroke="#606168" stroke-width="5"/>
<path d="M2198,1471 L2198,1970" stroke="#111" stroke-width="4.5"/>
<path d="M191,1968.0 L208,1968.0 M191,1868.8 L208,1868.8 M191,1670.4 L208,1670.4 M191,1571.2 L208,1571.2 M2198,1968.0 L2215,1968.0 M2198,1868.8 L2215,1868.8 M2198,1670.4 L2215,1670.4 M2198,1571.2 L2215,1571.2" stroke="#66676d" stroke-width="3"/>
<path d="M191,1769.6 L208,1769.6 M2198,1769.6 L2215,1769.6" stroke="#111" stroke-width="4"/><g font-family="Liberation Sans, sans-serif" style="font-kerning:none"><text transform="translate(155.08,1412.10) scale(1.1200,1.0000)" font-size="37.5" fill="#000" stroke="#000" stroke-width="0.15">0</text>
<text transform="translate(155.55,1346.98) scale(1.1200,1.0000)" font-size="37.5" fill="#000" stroke="#000" stroke-width="0.15">2</text>
<text transform="translate(154.67,1280.36) scale(1.1200,1.0000)" font-size="37.5" fill="#000" stroke="#000" stroke-width="0.15">4</text>
<text transform="translate(155.29,1213.74) scale(1.1200,1.0000)" font-size="37.5" fill="#000" stroke="#000" stroke-width="0.15">6</text>
<text transform="translate(155.27,1147.12) scale(1.1200,1.0000)" font-size="37.5" fill="#000" stroke="#000" stroke-width="0.15">8</text>
<text transform="translate(131.72,1080.50) scale(1.1200,1.0000)" font-size="37.5" fill="#000" stroke="#000" stroke-width="0.15">10</text>
<text transform="translate(132.20,1013.88) scale(1.1200,1.0000)" font-size="37.5" fill="#000" stroke="#000" stroke-width="0.15">12</text>
<text transform="translate(131.31,947.26) scale(1.1200,1.0000)" font-size="37.5" fill="#000" stroke="#000" stroke-width="0.15">14</text>
<text transform="translate(131.93,880.64) scale(1.1200,1.0000)" font-size="37.5" fill="#000" stroke="#000" stroke-width="0.15">16</text>
<text transform="translate(131.91,814.02) scale(1.1200,1.0000)" font-size="37.5" fill="#000" stroke="#000" stroke-width="0.15">18</text>
<text transform="translate(131.72,747.40) scale(1.1200,1.0000)" font-size="37.5" fill="#000" stroke="#000" stroke-width="0.15">20</text>
<text transform="translate(132.20,680.78) scale(1.1200,1.0000)" font-size="37.5" fill="#000" stroke="#000" stroke-width="0.15">22</text>
<text transform="translate(131.31,614.16) scale(1.1200,1.0000)" font-size="37.5" fill="#000" stroke="#000" stroke-width="0.15">24</text>
<text transform="translate(131.93,547.54) scale(1.1200,1.0000)" font-size="37.5" fill="#000" stroke="#000" stroke-width="0.15">26</text>
<text transform="translate(193.82,1451.50) scale(1.1200,1.0000)" font-size="37.5" fill="#000" stroke="#000" stroke-width="0.15">0</text>
<text transform="translate(361.52,1451.50) scale(1.1200,1.0000)" font-size="37.5" fill="#000" stroke="#000" stroke-width="0.15">2</text>
<text transform="translate(529.35,1451.50) scale(1.1200,1.0000)" font-size="37.5" fill="#000" stroke="#000" stroke-width="0.15">4</text>
<text transform="translate(696.78,1451.50) scale(1.1200,1.0000)" font-size="37.5" fill="#000" stroke="#000" stroke-width="0.15">6</text>
<text transform="translate(864.62,1451.50) scale(1.1200,1.0000)" font-size="37.5" fill="#000" stroke="#000" stroke-width="0.15">8</text>
<text transform="translate(1019.86,1451.50) scale(1.1200,1.0000)" font-size="37.5" fill="#000" stroke="#000" stroke-width="0.15">10</text>
<text transform="translate(1187.80,1451.50) scale(1.1200,1.0000)" font-size="37.5" fill="#000" stroke="#000" stroke-width="0.15">12</text>
<text transform="translate(1355.06,1451.50) scale(1.1200,1.0000)" font-size="37.5" fill="#000" stroke="#000" stroke-width="0.15">14</text>
<text transform="translate(1523.06,1451.50) scale(1.1200,1.0000)" font-size="37.5" fill="#000" stroke="#000" stroke-width="0.15">16</text>
<text transform="translate(1690.75,1451.50) scale(1.1200,1.0000)" font-size="37.5" fill="#000" stroke="#000" stroke-width="0.15">18</text>
<text transform="translate(1858.91,1451.50) scale(1.1200,1.0000)" font-size="37.5" fill="#000" stroke="#000" stroke-width="0.15">20</text>
<text transform="translate(2223.86,1412.10) scale(1.1200,1.0000)" font-size="37.5" fill="#000" stroke="#000" stroke-width="0.15">0</text>
<text transform="translate(2224.80,1346.98) scale(1.1200,1.0000)" font-size="37.5" fill="#000" stroke="#000" stroke-width="0.15">10</text>
<text transform="translate(2223.39,1280.36) scale(1.1200,1.0000)" font-size="37.5" fill="#000" stroke="#000" stroke-width="0.15">20</text>
<text transform="translate(2223.90,1213.74) scale(1.1200,1.0000)" font-size="37.5" fill="#000" stroke="#000" stroke-width="0.15">30</text>
<text transform="translate(2224.54,1147.12) scale(1.1200,1.0000)" font-size="37.5" fill="#000" stroke="#000" stroke-width="0.15">40</text>
<text transform="translate(2223.82,1080.50) scale(1.1200,1.0000)" font-size="37.5" fill="#000" stroke="#000" stroke-width="0.15">50</text>
<text transform="translate(2223.37,1013.88) scale(1.1200,1.0000)" font-size="37.5" fill="#000" stroke="#000" stroke-width="0.15">60</text>
<text transform="translate(2223.35,947.26) scale(1.1200,1.0000)" font-size="37.5" fill="#000" stroke="#000" stroke-width="0.15">70</text>
<text transform="translate(2223.67,880.64) scale(1.1200,1.0000)" font-size="37.5" fill="#000" stroke="#000" stroke-width="0.15">80</text>
<text transform="translate(2223.53,814.02) scale(1.1200,1.0000)" font-size="37.5" fill="#000" stroke="#000" stroke-width="0.15">90</text>
<text transform="translate(2224.80,747.40) scale(1.1200,1.0000)" font-size="37.5" fill="#000" stroke="#000" stroke-width="0.15">100</text>
<text transform="translate(108.85,431.20) scale(1.1553,1.0000)" font-size="37.5" fill="#000" stroke="#000" stroke-width="0.15">H</text>
<text transform="translate(96.92,480.00) scale(1.1509,1.0000)" font-size="37.5" fill="#000" stroke="#000" stroke-width="0.15">[м]</text>
<text transform="translate(2260.61,431.80) scale(1.1874,1.0000)" font-size="37.5" fill="#000" stroke="#000" stroke-width="0.15">ets</text>
<text transform="translate(2258.82,480.00) scale(1.1877,1.0000)" font-size="37.5" fill="#000" stroke="#000" stroke-width="0.15">[%]</text>
<text transform="translate(2039.87,1451.00) scale(1.0878,1.0000)" font-size="37.5" fill="#000" stroke="#000" stroke-width="0.15">Q [м³/ч]</text>
<text transform="translate(223.99,447.50) scale(0.9766,1.1000)" font-size="50" fill="#f6f8fa" stroke="#f6f8fa" stroke-width="0.10">Рабочие характеристики насоса</text>
<text transform="translate(1671.78,443.80) scale(1.0420,1.0000)" font-size="40" fill="#000">NKE 32-125.1/121, 3*400 V</text>
<text transform="translate(120.05,1979.60) scale(1.1200,1.0000)" font-size="37.5" fill="#000" stroke="#000" stroke-width="0.15">0.0</text>
<text transform="translate(120.18,1882.40) scale(1.1200,1.0000)" font-size="37.5" fill="#000" stroke="#000" stroke-width="0.15">0.5</text>
<text transform="translate(120.05,1783.20) scale(1.1200,1.0000)" font-size="37.5" fill="#000" stroke="#000" stroke-width="0.15">1.0</text>
<text transform="translate(120.18,1684.00) scale(1.1200,1.0000)" font-size="37.5" fill="#000" stroke="#000" stroke-width="0.15">1.5</text>
<text transform="translate(2222.86,1979.60) scale(1.1200,1.0000)" font-size="37.5" fill="#000" stroke="#000" stroke-width="0.15">0</text>
<text transform="translate(2223.80,1882.40) scale(1.1200,1.0000)" font-size="37.5" fill="#000" stroke="#000" stroke-width="0.15">1</text>
<text transform="translate(2222.39,1783.20) scale(1.1200,1.0000)" font-size="37.5" fill="#000" stroke="#000" stroke-width="0.15">2</text>
<text transform="translate(2222.90,1684.00) scale(1.1200,1.0000)" font-size="37.5" fill="#000" stroke="#000" stroke-width="0.15">3</text>
<text transform="translate(88.46,1502.50) scale(1.1524,1.0000)" font-size="37.5" fill="#000" stroke="#000" stroke-width="0.15">P</text>
<text transform="translate(57.00,1551.00) scale(1.1203,1.0000)" font-size="37.5" fill="#000" stroke="#000" stroke-width="0.15">[кВт]</text>
<text transform="translate(2240.79,1503.20) scale(1.1086,1.0000)" font-size="37.5" fill="#000" stroke="#000" stroke-width="0.15">NPSH</text>
<text transform="translate(2270.09,1551.00) scale(1.0903,1.0000)" font-size="37.5" fill="#000" stroke="#000" stroke-width="0.15">[м]</text>
<text transform="translate(1777.31,1623.60) scale(1.1036,1.0000)" font-size="37.5" fill="#1a4f8f" stroke="#1a4f8f" stroke-width="0.20">P1 (motor+freq.converter)</text>
<text transform="translate(1990.21,1710.60) scale(1.1685,1.0000)" font-size="37.5" fill="#1a4f8f" stroke="#1a4f8f" stroke-width="0.20">P2</text></g></svg>
</body></html>
